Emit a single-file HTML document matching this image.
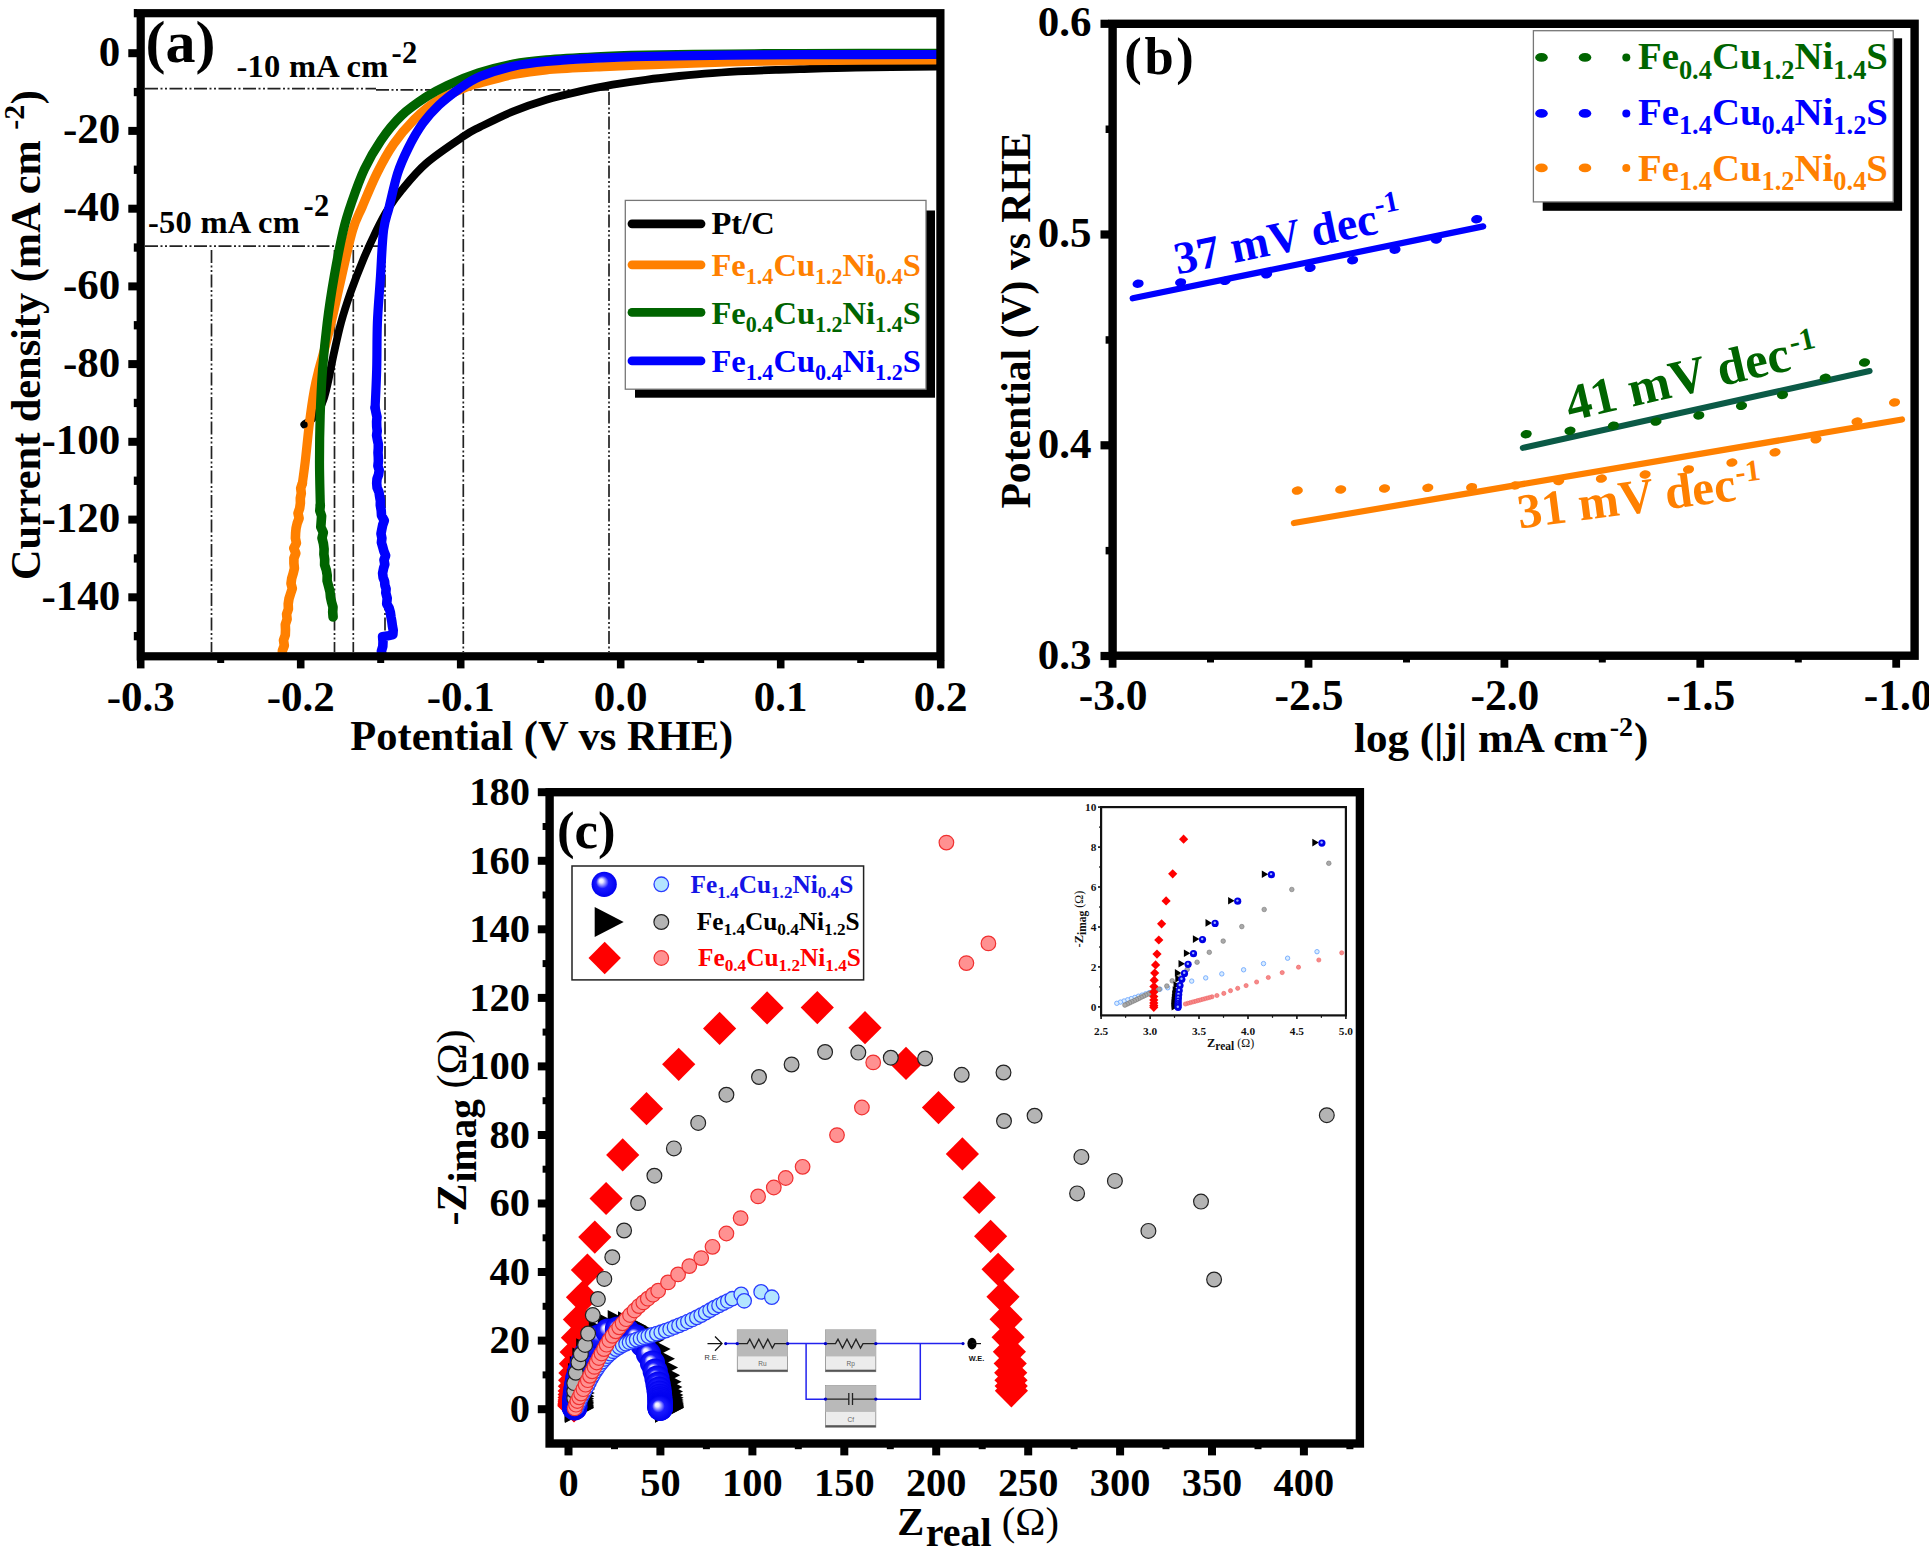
<!DOCTYPE html>
<html lang="en"><head><meta charset="utf-8"><title>HER performance figure</title>
<style>html,body{margin:0;padding:0;background:#fff}svg{display:block}</style></head>
<body>
<svg width="1929" height="1552" viewBox="0 0 1929 1552">
<rect width="1929" height="1552" fill="#fff"/>
<g id="panel-a">
<path d="M145,88.6H376M376,89.8H609" stroke="#222" stroke-width="1.7" stroke-dasharray="13,2.5,2,2.5,2,2.5" fill="none"/>
<path d="M145,246.2H386" stroke="#222" stroke-width="1.7" stroke-dasharray="13,2.5,2,2.5,2,2.5" fill="none"/>
<path d="M211.5,250V652" stroke="#222" stroke-width="1.7" stroke-dasharray="13,2.5,2,2.5,2,2.5" fill="none"/>
<path d="M334.5,250V652" stroke="#222" stroke-width="1.7" stroke-dasharray="13,2.5,2,2.5,2,2.5" fill="none"/>
<path d="M353.3,250V652" stroke="#222" stroke-width="1.7" stroke-dasharray="13,2.5,2,2.5,2,2.5" fill="none"/>
<path d="M385,250V652" stroke="#222" stroke-width="1.7" stroke-dasharray="13,2.5,2,2.5,2,2.5" fill="none"/>
<path d="M463.3,92V652" stroke="#222" stroke-width="1.7" stroke-dasharray="13,2.5,2,2.5,2,2.5" fill="none"/>
<path d="M609,92V652" stroke="#222" stroke-width="1.7" stroke-dasharray="13,2.5,2,2.5,2,2.5" fill="none"/>
<clipPath id="clipA"><rect x="140.7" y="13.2" width="799.7" height="643.1"/></clipPath>
<g clip-path="url(#clipA)" fill="none" stroke-linejoin="round" stroke-linecap="round">
<path d="M304.3,424.5C305.6,423.6 309.6,421.4 312,419C314.4,416.6 317,413.5 319,410C321,406.5 322.4,403 324,398C325.6,393 326.9,387.4 328.5,380C330.1,372.6 331.7,363.2 333.8,353.7C335.9,344.2 338.2,333.1 341,322.8C343.8,312.5 347.2,302.1 350.8,291.8C354.4,281.5 358.4,271.2 362.7,260.9C367,250.6 372.5,238.7 376.7,230C380.9,221.3 383.8,215.7 388,209C392.2,202.3 395.3,197.7 401.7,190C408.1,182.3 416.2,172 426.6,163C437,154 455.1,142.1 464,136.1C472.9,130.1 471.8,131.1 480,127C488.2,122.9 502.1,115.8 513.2,111.3C524.3,106.8 535.4,103 546.4,99.7C557.4,96.4 568.5,93.9 579.5,91.4C590.5,88.9 601.6,86.6 612.7,84.7C623.8,82.8 634.8,81.2 645.9,79.8C657,78.3 668,77.1 679.1,76C690.2,74.9 701.2,73.9 712.3,73.1C723.3,72.3 734.3,71.6 745.4,71.1C756.5,70.5 769.5,70.1 778.6,69.8C787.7,69.5 787.1,69.6 800,69.2C812.9,68.8 833.3,68 856,67.6C878.7,67.2 922.7,66.8 936,66.6" stroke="#000" stroke-width="7.8"/>
<path d="M302.4,483.3C302.9,479.7 304,471.9 305.2,461.9C306.4,451.9 307.9,435.2 309.4,423.2C310.9,411.2 312.7,398.9 314.3,390C315.9,381.1 317.1,376.7 318.8,370C320.5,363.3 322.3,357.5 324.3,350C326.3,342.5 328.6,333.3 330.6,325C332.6,316.7 334.5,308.1 336.3,300C338.1,291.9 338.9,288.1 341.6,276.4C344.3,264.7 349.2,241.6 352.7,230C356.1,218.4 358.3,216 362.3,206.6C366.3,197.2 371.7,183.8 376.9,173.4C382.1,163 387.2,153.4 393.4,144.4C399.6,135.4 406.9,126.8 414.2,119.5C421.5,112.2 428,106.4 437,100.9C446,95.4 460.9,89.4 468.1,86.4C475.3,83.4 472.5,85 480,83C487.5,81 502.1,76.7 513.2,74.5C524.3,72.3 532.6,71 546.4,69.8C560.2,68.5 579.4,67.8 596,67C612.6,66.2 623.8,65.6 646,64.8C668.2,64 703.3,62.7 729,62C754.7,61.3 765.5,61 800,60.6C834.5,60.2 913.3,59.9 936,59.8" stroke="#ff8000" stroke-width="9.2"/>
<path d="M282.2,656L282.4,650.7L284.3,645.5L283.5,640.2L285.3,635L285.5,629.7L285.3,624.5L287.1,619.2L286.6,614.1L288.4,609L288.2,603.9L289,598.7L290.6,593.6L292.3,588.5L291,583.5L291.7,578.4L293.2,573.4L294.4,568.3L293.9,563.3L293.9,558.3L295.8,553.2L293.8,548.2L296.4,543.1L295.4,538.1L295.6,533.1L296.1,528.1L297.2,523.2L299.1,518.2L298,513.2L299.7,508.2L300.4,503.2L300.3,498.2L301.3,493.3L300.7,488.3L302.4,483.3" stroke="#ff8000" stroke-width="9.6"/>
<path d="M320.3,505.2C320.2,498 319.5,476.8 319.5,461.9C319.5,446.9 319.7,431 320.2,415.5C320.7,400 321.4,384.6 322.6,369.1C323.8,353.7 325.3,338.2 327.2,322.8C329.1,307.4 331.5,291.9 334.2,276.4C336.9,260.9 340.5,242.3 343.4,230C346.3,217.7 348.1,212.6 351.6,202.5C355.1,192.4 359.5,179.7 364.4,169.3C369.3,158.9 374.8,149.3 381,140.3C387.2,131.3 394.1,122.7 401.7,115.4C409.3,108.1 419,101.7 426.6,96.7C434.2,91.7 438.8,89.3 447.4,85.3C456,81.3 467.5,76.5 478.5,72.9C489.5,69.4 501.9,66.2 513.2,64C524.5,61.8 532.6,61 546.4,59.8C560.2,58.6 579.4,57.6 596,56.8C612.6,56 623.8,55.7 646,55.2C668.2,54.7 703.3,54.3 729,54C754.7,53.7 765.5,53.6 800,53.5C834.5,53.4 913.3,53.3 936,53.3" stroke="#006400" stroke-width="9.2"/>
<path d="M333.1,617L332.7,612L333,607.1L331.6,602.2L330.5,597.2L330,591.7L328.6,586.2L327.1,580.8L327.2,575.3L326.3,570L324.6,564.8L324.7,559.5L323.9,554.3L324.1,549L323.4,543.5L322,538L323.3,532.6L320.8,527.1L321.2,521.6L321.6,516.1L319.8,510.7L320.3,505.2" stroke="#006400" stroke-width="9.6"/>
<path d="M382.4,656L381.4,651.2L382.8,646.4L383,641.5L382.6,636.7L388.7,635.6L392.9,634.5L393.2,630.1L392.4,625.8L391.8,621.4L391,617L390.4,612.6L389.2,608.2L386.7,603.8L387.2,598.3L385.8,592.9L386.1,589L384.9,585.2L384.6,581.4L383.1,577.5L382.6,573.1L383.5,568.7L384.8,564.4L384,560L385.6,555.6L383.9,551.2L382.7,546.9L381.4,542.5L381.9,538.1L381,533.7L381.8,529.4L382.7,525L384.3,520.6L381.5,515.5L381.2,510.3L380.3,505.2L380.4,500.8L379.6,496.4L379,492.1L377.1,487.7L376.7,483.3L377,478.9L378.6,474.5L379.2,470.2L377.9,465.8L378.4,461.4L378.3,457.1L378,452.7L378.3,448.4L378.3,444L377.4,439.7L376.6,435.3L377.2,431L376.7,426.4L376.6,421.7L377,417.1L376,412.4L375.1,407.8" stroke="#0000ff" stroke-width="9.6"/>
<path d="M375.1,407.8C375.4,401.4 376.3,383.3 376.7,369.1C377.1,354.9 376.8,338.2 377.4,322.8C378,307.4 379.5,291.9 380.5,276.4C381.5,260.9 382.1,241.6 383.6,230C385.1,218.4 387,216 389.3,206.6C391.6,197.2 394.5,183.1 397.6,173.4C400.7,163.7 403.9,156.9 408,148.6C412.1,140.3 417.3,131 422.5,123.7C427.7,116.4 432.8,110.9 439,105C445.2,99.1 453,93.2 459.8,88.4C466.6,83.7 471.1,80.2 480,76.5C488.9,72.8 502.1,68.7 513.2,66.2C524.3,63.7 532.6,62.8 546.4,61.5C560.2,60.2 579.4,59 596,58.2C612.6,57.4 623.8,57 646,56.5C668.2,56 703.3,55.5 729,55.2C754.7,54.9 765.5,54.8 800,54.7C834.5,54.6 913.3,54.5 936,54.5" stroke="#0000ff" stroke-width="9.2"/>
</g>
<circle cx="304.5" cy="424.8" r="3.2" fill="#000"/>
<rect x="140.7" y="13.2" width="799.7" height="643.1" fill="none" stroke="#000" stroke-width="8.2"/>
<rect x="128.3" y="49.2" width="8.7" height="8" fill="#000"/>
<text x="120.3" y="65.7" font-size="43" text-anchor="end" fill="#000" font-weight="bold" font-family="'Liberation Serif','DejaVu Serif',serif">0</text>
<rect x="128.3" y="126.9" width="8.7" height="8" fill="#000"/>
<text x="120.3" y="143.4" font-size="43" text-anchor="end" fill="#000" font-weight="bold" font-family="'Liberation Serif','DejaVu Serif',serif">-20</text>
<rect x="128.3" y="204.7" width="8.7" height="8" fill="#000"/>
<text x="120.3" y="221.2" font-size="43" text-anchor="end" fill="#000" font-weight="bold" font-family="'Liberation Serif','DejaVu Serif',serif">-40</text>
<rect x="128.3" y="282.4" width="8.7" height="8" fill="#000"/>
<text x="120.3" y="298.9" font-size="43" text-anchor="end" fill="#000" font-weight="bold" font-family="'Liberation Serif','DejaVu Serif',serif">-60</text>
<rect x="128.3" y="360.1" width="8.7" height="8" fill="#000"/>
<text x="120.3" y="376.6" font-size="43" text-anchor="end" fill="#000" font-weight="bold" font-family="'Liberation Serif','DejaVu Serif',serif">-80</text>
<rect x="128.3" y="437.8" width="8.7" height="8" fill="#000"/>
<text x="120.3" y="454.3" font-size="43" text-anchor="end" fill="#000" font-weight="bold" font-family="'Liberation Serif','DejaVu Serif',serif">-100</text>
<rect x="128.3" y="515.6" width="8.7" height="8" fill="#000"/>
<text x="120.3" y="532.1" font-size="43" text-anchor="end" fill="#000" font-weight="bold" font-family="'Liberation Serif','DejaVu Serif',serif">-120</text>
<rect x="128.3" y="593.3" width="8.7" height="8" fill="#000"/>
<text x="120.3" y="609.8" font-size="43" text-anchor="end" fill="#000" font-weight="bold" font-family="'Liberation Serif','DejaVu Serif',serif">-140</text>
<rect x="133.8" y="9" width="3.2" height="8.3" fill="#000"/>
<rect x="133.8" y="87.9" width="3.2" height="8.3" fill="#000"/>
<rect x="133.8" y="165.6" width="3.2" height="8.3" fill="#000"/>
<rect x="133.8" y="243.4" width="3.2" height="8.3" fill="#000"/>
<rect x="133.8" y="321.1" width="3.2" height="8.3" fill="#000"/>
<rect x="133.8" y="398.8" width="3.2" height="8.3" fill="#000"/>
<rect x="133.8" y="476.6" width="3.2" height="8.3" fill="#000"/>
<rect x="133.8" y="554.3" width="3.2" height="8.3" fill="#000"/>
<rect x="133.8" y="632" width="3.2" height="8.3" fill="#000"/>
<rect x="136.9" y="660" width="7.6" height="8.4" fill="#000"/>
<text x="140.7" y="711.3" font-size="43" text-anchor="middle" fill="#000" font-weight="bold" font-family="'Liberation Serif','DejaVu Serif',serif">-0.3</text>
<rect x="296.9" y="660" width="7.6" height="8.4" fill="#000"/>
<text x="300.7" y="711.3" font-size="43" text-anchor="middle" fill="#000" font-weight="bold" font-family="'Liberation Serif','DejaVu Serif',serif">-0.2</text>
<rect x="456.9" y="660" width="7.6" height="8.4" fill="#000"/>
<text x="460.7" y="711.3" font-size="43" text-anchor="middle" fill="#000" font-weight="bold" font-family="'Liberation Serif','DejaVu Serif',serif">-0.1</text>
<rect x="616.9" y="660" width="7.6" height="8.4" fill="#000"/>
<text x="620.7" y="711.3" font-size="43" text-anchor="middle" fill="#000" font-weight="bold" font-family="'Liberation Serif','DejaVu Serif',serif">0.0</text>
<rect x="776.9" y="660" width="7.6" height="8.4" fill="#000"/>
<text x="780.7" y="711.3" font-size="43" text-anchor="middle" fill="#000" font-weight="bold" font-family="'Liberation Serif','DejaVu Serif',serif">0.1</text>
<rect x="936.9" y="660" width="7.6" height="8.4" fill="#000"/>
<text x="940.7" y="711.3" font-size="43" text-anchor="middle" fill="#000" font-weight="bold" font-family="'Liberation Serif','DejaVu Serif',serif">0.2</text>
<rect x="217.2" y="660" width="7" height="3" fill="#000"/>
<rect x="377.2" y="660" width="7" height="3" fill="#000"/>
<rect x="537.2" y="660" width="7" height="3" fill="#000"/>
<rect x="697.2" y="660" width="7" height="3" fill="#000"/>
<rect x="857.2" y="660" width="7" height="3" fill="#000"/>
<text x="350.3" y="750" font-size="42.5" text-anchor="start" fill="#000" font-weight="bold" font-family="'Liberation Serif','DejaVu Serif',serif">Potential (V vs RHE)</text>
<text transform="translate(39.8,580) rotate(-90)" font-size="42.3" font-weight="bold" font-family="'Liberation Serif','DejaVu Serif',serif" fill="#000">Current density (mA cm <tspan dy="-15.5" font-size="30">-2</tspan><tspan dy="15.5" dx="0.5">)</tspan></text>
<text x="145.5" y="61.8" font-size="60" text-anchor="start" fill="#000" font-weight="bold" font-family="'Liberation Serif','DejaVu Serif',serif">(a)</text>
<text x="236.5" y="77.3" font-size="32.5" letter-spacing="0.25" font-weight="bold" font-family="'Liberation Serif','DejaVu Serif',serif" fill="#000">-10 mA cm<tspan dy="-14.5" dx="3" font-size="30.5">-2</tspan></text>
<text x="148" y="232.8" font-size="32.5" letter-spacing="0.25" font-weight="bold" font-family="'Liberation Serif','DejaVu Serif',serif" fill="#000">-50 mA cm<tspan dy="-16.5" dx="3.5" font-size="30.5">-2</tspan></text>
<rect x="635" y="210.5" width="300" height="187.2" fill="#000"/>
<rect x="625.3" y="200.4" width="300.7" height="188.8" fill="#fff" stroke="#777" stroke-width="1.3"/>
<path d="M632,223.8H701" stroke="#000" stroke-width="8.8" stroke-linecap="round" fill="none"/>
<text x="711.5" y="234.3" font-size="32.5" text-anchor="start" fill="#000" font-weight="bold" font-family="'Liberation Serif','DejaVu Serif',serif">Pt/C</text>
<path d="M632,264.8H701" stroke="#ff8000" stroke-width="8.8" stroke-linecap="round" fill="none"/>
<text x="711.5" y="275.6" font-size="32.5" text-anchor="start" fill="#ff8000" font-weight="bold" font-family="'Liberation Serif','DejaVu Serif',serif">Fe<tspan dy="8.1" font-size="22.1">1.4</tspan><tspan dy="-8.1" font-size="32.5">Cu</tspan><tspan dy="8.1" font-size="22.1">1.2</tspan><tspan dy="-8.1" font-size="32.5">Ni</tspan><tspan dy="8.1" font-size="22.1">0.4</tspan><tspan dy="-8.1" font-size="32.5">S</tspan></text>
<path d="M632,312.4H701" stroke="#006400" stroke-width="8.8" stroke-linecap="round" fill="none"/>
<text x="711.5" y="323.8" font-size="32.5" text-anchor="start" fill="#006400" font-weight="bold" font-family="'Liberation Serif','DejaVu Serif',serif">Fe<tspan dy="8.1" font-size="22.1">0.4</tspan><tspan dy="-8.1" font-size="32.5">Cu</tspan><tspan dy="8.1" font-size="22.1">1.2</tspan><tspan dy="-8.1" font-size="32.5">Ni</tspan><tspan dy="8.1" font-size="22.1">1.4</tspan><tspan dy="-8.1" font-size="32.5">S</tspan></text>
<path d="M632,360.9H701" stroke="#0000ff" stroke-width="8.8" stroke-linecap="round" fill="none"/>
<text x="711.5" y="372.1" font-size="32.5" text-anchor="start" fill="#0000ff" font-weight="bold" font-family="'Liberation Serif','DejaVu Serif',serif">Fe<tspan dy="8.1" font-size="22.1">1.4</tspan><tspan dy="-8.1" font-size="32.5">Cu</tspan><tspan dy="8.1" font-size="22.1">0.4</tspan><tspan dy="-8.1" font-size="32.5">Ni</tspan><tspan dy="8.1" font-size="22.1">1.2</tspan><tspan dy="-8.1" font-size="32.5">S</tspan></text>
</g>
<g id="panel-b">
<path d="M1132.7,298.3L1483.2,226.4" stroke="#0000ff" stroke-width="6.2" stroke-linecap="round"/>
<ellipse cx="1138.1" cy="283.7" rx="5.6" ry="4.2" fill="#0000ff" transform="rotate(-10 1138.1 283.7)"/>
<ellipse cx="1180.6" cy="282.4" rx="5.6" ry="4.2" fill="#0000ff" transform="rotate(-10 1180.6 282.4)"/>
<ellipse cx="1225.2" cy="280.8" rx="5.6" ry="4.2" fill="#0000ff" transform="rotate(-10 1225.2 280.8)"/>
<ellipse cx="1266.6" cy="274.3" rx="5.6" ry="4.2" fill="#0000ff" transform="rotate(-10 1266.6 274.3)"/>
<ellipse cx="1310.1" cy="267.8" rx="5.6" ry="4.2" fill="#0000ff" transform="rotate(-10 1310.1 267.8)"/>
<ellipse cx="1352.6" cy="260.2" rx="5.6" ry="4.2" fill="#0000ff" transform="rotate(-10 1352.6 260.2)"/>
<ellipse cx="1395" cy="249.7" rx="5.6" ry="4.2" fill="#0000ff" transform="rotate(-10 1395 249.7)"/>
<ellipse cx="1436.4" cy="239.5" rx="5.6" ry="4.2" fill="#0000ff" transform="rotate(-10 1436.4 239.5)"/>
<ellipse cx="1476.7" cy="219.2" rx="5.6" ry="4.2" fill="#0000ff" transform="rotate(-10 1476.7 219.2)"/>
<text transform="translate(1177.5,274.5) rotate(-11.6)" font-size="46" font-weight="bold" font-family="'Liberation Serif','DejaVu Serif',serif" fill="#0000ff">37 mV dec<tspan dy="-18.5" dx="0.5" font-size="29.5">-1</tspan></text>
<path d="M1522.8,447.9L1869.6,371" stroke="#0b5a46" stroke-width="6" stroke-linecap="round"/>
<ellipse cx="1526.2" cy="434.2" rx="5.6" ry="4.2" fill="#006400" transform="rotate(-10 1526.2 434.2)"/>
<ellipse cx="1570" cy="430.8" rx="5.6" ry="4.2" fill="#006400" transform="rotate(-10 1570 430.8)"/>
<ellipse cx="1613.4" cy="425.7" rx="5.6" ry="4.2" fill="#006400" transform="rotate(-10 1613.4 425.7)"/>
<ellipse cx="1656" cy="421.6" rx="5.6" ry="4.2" fill="#006400" transform="rotate(-10 1656 421.6)"/>
<ellipse cx="1698.8" cy="415.4" rx="5.6" ry="4.2" fill="#006400" transform="rotate(-10 1698.8 415.4)"/>
<ellipse cx="1741.5" cy="405.8" rx="5.6" ry="4.2" fill="#006400" transform="rotate(-10 1741.5 405.8)"/>
<ellipse cx="1782.5" cy="394.9" rx="5.6" ry="4.2" fill="#006400" transform="rotate(-10 1782.5 394.9)"/>
<ellipse cx="1825.2" cy="377.8" rx="5.6" ry="4.2" fill="#006400" transform="rotate(-10 1825.2 377.8)"/>
<ellipse cx="1864.5" cy="362.5" rx="5.6" ry="4.2" fill="#006400" transform="rotate(-10 1864.5 362.5)"/>
<text transform="translate(1570,421) rotate(-13)" font-size="51" font-weight="bold" font-family="'Liberation Serif','DejaVu Serif',serif" fill="#006400">41 mV dec<tspan dy="-16.5" dx="2.5" font-size="31">-1</tspan></text>
<path d="M1293.9,523L1902,419.5" stroke="#ff8000" stroke-width="6.2" stroke-linecap="round"/>
<ellipse cx="1297.3" cy="490.6" rx="5.6" ry="4.2" fill="#ff8000" transform="rotate(-10 1297.3 490.6)"/>
<ellipse cx="1340.7" cy="489.5" rx="5.6" ry="4.2" fill="#ff8000" transform="rotate(-10 1340.7 489.5)"/>
<ellipse cx="1384.5" cy="488.5" rx="5.6" ry="4.2" fill="#ff8000" transform="rotate(-10 1384.5 488.5)"/>
<ellipse cx="1427.8" cy="487.8" rx="5.6" ry="4.2" fill="#ff8000" transform="rotate(-10 1427.8 487.8)"/>
<ellipse cx="1471.6" cy="487.2" rx="5.6" ry="4.2" fill="#ff8000" transform="rotate(-10 1471.6 487.2)"/>
<ellipse cx="1515.3" cy="485.4" rx="5.6" ry="4.2" fill="#ff8000" transform="rotate(-10 1515.3 485.4)"/>
<ellipse cx="1558.7" cy="481" rx="5.6" ry="4.2" fill="#ff8000" transform="rotate(-10 1558.7 481)"/>
<ellipse cx="1601.4" cy="478.6" rx="5.6" ry="4.2" fill="#ff8000" transform="rotate(-10 1601.4 478.6)"/>
<ellipse cx="1645.1" cy="474.5" rx="5.6" ry="4.2" fill="#ff8000" transform="rotate(-10 1645.1 474.5)"/>
<ellipse cx="1688.5" cy="469.4" rx="5.6" ry="4.2" fill="#ff8000" transform="rotate(-10 1688.5 469.4)"/>
<ellipse cx="1731.9" cy="462.6" rx="5.6" ry="4.2" fill="#ff8000" transform="rotate(-10 1731.9 462.6)"/>
<ellipse cx="1775" cy="452.3" rx="5.6" ry="4.2" fill="#ff8000" transform="rotate(-10 1775 452.3)"/>
<ellipse cx="1816" cy="439.3" rx="5.6" ry="4.2" fill="#ff8000" transform="rotate(-10 1816 439.3)"/>
<ellipse cx="1857" cy="421.6" rx="5.6" ry="4.2" fill="#ff8000" transform="rotate(-10 1857 421.6)"/>
<ellipse cx="1894.5" cy="402.4" rx="5.6" ry="4.2" fill="#ff8000" transform="rotate(-10 1894.5 402.4)"/>
<text transform="translate(1519.5,528.5) rotate(-7.4)" font-size="49" font-weight="bold" font-family="'Liberation Serif','DejaVu Serif',serif" fill="#ff8000">31 mV dec<tspan dy="-17.5" dx="1.5" font-size="30">-1</tspan></text>
<rect x="1112.6" y="23.8" width="802" height="631.9" fill="none" stroke="#000" stroke-width="8.4"/>
<rect x="1100.5" y="19.7" width="8.5" height="8.2" fill="#000"/>
<text x="1091.5" y="36.3" font-size="43" text-anchor="end" fill="#000" font-weight="bold" font-family="'Liberation Serif','DejaVu Serif',serif">0.6</text>
<rect x="1100.5" y="230.4" width="8.5" height="8.2" fill="#000"/>
<text x="1091.5" y="247" font-size="43" text-anchor="end" fill="#000" font-weight="bold" font-family="'Liberation Serif','DejaVu Serif',serif">0.5</text>
<rect x="1100.5" y="441.2" width="8.5" height="8.2" fill="#000"/>
<text x="1091.5" y="457.8" font-size="43" text-anchor="end" fill="#000" font-weight="bold" font-family="'Liberation Serif','DejaVu Serif',serif">0.4</text>
<rect x="1100.5" y="651.9" width="8.5" height="8.2" fill="#000"/>
<text x="1091.5" y="668.5" font-size="43" text-anchor="end" fill="#000" font-weight="bold" font-family="'Liberation Serif','DejaVu Serif',serif">0.3</text>
<rect x="1105.6" y="125.5" width="3.4" height="7.5" fill="#000"/>
<rect x="1105.6" y="336.2" width="3.4" height="7.5" fill="#000"/>
<rect x="1105.6" y="546.9" width="3.4" height="7.5" fill="#000"/>
<rect x="1108.7" y="659" width="7.8" height="8.7" fill="#000"/>
<text x="1113.1" y="709.5" font-size="43.5" text-anchor="middle" fill="#000" font-weight="bold" font-family="'Liberation Serif','DejaVu Serif',serif">-3.0</text>
<rect x="1304.6" y="659" width="7.8" height="8.7" fill="#000"/>
<text x="1309" y="709.5" font-size="43.5" text-anchor="middle" fill="#000" font-weight="bold" font-family="'Liberation Serif','DejaVu Serif',serif">-2.5</text>
<rect x="1500.5" y="659" width="7.8" height="8.7" fill="#000"/>
<text x="1504.9" y="709.5" font-size="43.5" text-anchor="middle" fill="#000" font-weight="bold" font-family="'Liberation Serif','DejaVu Serif',serif">-2.0</text>
<rect x="1696.4" y="659" width="7.8" height="8.7" fill="#000"/>
<text x="1700.8" y="709.5" font-size="43.5" text-anchor="middle" fill="#000" font-weight="bold" font-family="'Liberation Serif','DejaVu Serif',serif">-1.5</text>
<rect x="1892.3" y="659" width="7.8" height="8.7" fill="#000"/>
<text x="1898.2" y="709.5" font-size="43.5" text-anchor="middle" fill="#000" font-weight="bold" font-family="'Liberation Serif','DejaVu Serif',serif">-1.0</text>
<rect x="1207" y="659" width="7" height="3.5" fill="#000"/>
<rect x="1403" y="659" width="7" height="3.5" fill="#000"/>
<rect x="1598.8" y="659" width="7" height="3.5" fill="#000"/>
<rect x="1794.8" y="659" width="7" height="3.5" fill="#000"/>
<text x="1354" y="752.4" font-size="43" font-weight="bold" font-family="'Liberation Serif','DejaVu Serif',serif" fill="#000">log (|j| mA cm<tspan dy="-16.8" dx="1.5" font-size="28">-2</tspan><tspan dy="16.8" dx="1" font-size="43">)</tspan></text>
<text transform="translate(1029.6,508.6) rotate(-90)" font-size="41.7" font-weight="bold" font-family="'Liberation Serif','DejaVu Serif',serif" fill="#000">Potential (V) vs RHE</text>
<text x="1124.3" y="73.9" font-size="52.5" text-anchor="start" fill="#000" font-weight="bold" font-family="'Liberation Serif','DejaVu Serif',serif" letter-spacing="2.6">(b)</text>
<rect x="1542.7" y="38.3" width="359.4" height="172.5" fill="#000"/>
<rect x="1533.4" y="30.7" width="359.8" height="171.2" fill="#fff" stroke="#777" stroke-width="1.3"/>
<clipPath id="clipBL"><rect x="1534" y="31" width="359" height="170"/></clipPath>
<g clip-path="url(#clipBL)">
<ellipse cx="1541.5" cy="57.4" rx="6.3" ry="4.4" fill="#006400"/>
<ellipse cx="1585" cy="57.4" rx="6.3" ry="4.4" fill="#006400"/>
<circle cx="1626.3" cy="57.4" r="4" fill="#006400"/>
</g>
<text x="1638" y="69.4" font-size="38.8" text-anchor="start" fill="#006400" font-weight="bold" font-family="'Liberation Serif','DejaVu Serif',serif">Fe<tspan dy="9.7" font-size="26.4">0.4</tspan><tspan dy="-9.7" font-size="38.8">Cu</tspan><tspan dy="9.7" font-size="26.4">1.2</tspan><tspan dy="-9.7" font-size="38.8">Ni</tspan><tspan dy="9.7" font-size="26.4">1.4</tspan><tspan dy="-9.7" font-size="38.8">S</tspan></text>
<g clip-path="url(#clipBL)">
<ellipse cx="1541.5" cy="113.4" rx="6.3" ry="4.4" fill="#0000ff"/>
<ellipse cx="1585" cy="113.4" rx="6.3" ry="4.4" fill="#0000ff"/>
<circle cx="1626.3" cy="113.4" r="4" fill="#0000ff"/>
</g>
<text x="1638" y="124.7" font-size="38.8" text-anchor="start" fill="#0000ff" font-weight="bold" font-family="'Liberation Serif','DejaVu Serif',serif">Fe<tspan dy="9.7" font-size="26.4">1.4</tspan><tspan dy="-9.7" font-size="38.8">Cu</tspan><tspan dy="9.7" font-size="26.4">0.4</tspan><tspan dy="-9.7" font-size="38.8">Ni</tspan><tspan dy="9.7" font-size="26.4">1.2</tspan><tspan dy="-9.7" font-size="38.8">S</tspan></text>
<g clip-path="url(#clipBL)">
<ellipse cx="1541.5" cy="167.9" rx="6.3" ry="4.4" fill="#ff8000"/>
<ellipse cx="1585" cy="167.9" rx="6.3" ry="4.4" fill="#ff8000"/>
<circle cx="1626.3" cy="167.9" r="4" fill="#ff8000"/>
</g>
<text x="1638" y="180.6" font-size="38.8" text-anchor="start" fill="#ff8000" font-weight="bold" font-family="'Liberation Serif','DejaVu Serif',serif">Fe<tspan dy="9.7" font-size="26.4">1.4</tspan><tspan dy="-9.7" font-size="38.8">Cu</tspan><tspan dy="9.7" font-size="26.4">1.2</tspan><tspan dy="-9.7" font-size="38.8">Ni</tspan><tspan dy="9.7" font-size="26.4">0.4</tspan><tspan dy="-9.7" font-size="38.8">S</tspan></text>
</g>
<g id="panel-c">
<defs><radialGradient id="sph" cx="0.5" cy="0.5" r="0.5" fx="0.36" fy="0.34"><stop offset="0" stop-color="#ffffff"/><stop offset="0.16" stop-color="#e8e8ff"/><stop offset="0.5" stop-color="#1a1aff"/><stop offset="1" stop-color="#0000f0"/></radialGradient></defs>
<clipPath id="clipC"><rect x="549.6" y="792.2" width="810.3" height="651.3"/></clipPath>
<g clip-path="url(#clipC)">
<path d="M994.8,1390.8l16.6,-16.6l16.6,16.6l-16.6,16.6z" fill="#ff0000"/>
<path d="M994.6,1386.1l16.6,-16.6l16.6,16.6l-16.6,16.6z" fill="#ff0000"/>
<path d="M994.4,1380.2l16.6,-16.6l16.6,16.6l-16.6,16.6z" fill="#ff0000"/>
<path d="M994.1,1372.8l16.6,-16.6l16.6,16.6l-16.6,16.6z" fill="#ff0000"/>
<path d="M993.6,1363.5l16.6,-16.6l16.6,16.6l-16.6,16.6z" fill="#ff0000"/>
<path d="M992.8,1351.8l16.6,-16.6l16.6,16.6l-16.6,16.6z" fill="#ff0000"/>
<path d="M991.5,1337.3l16.6,-16.6l16.6,16.6l-16.6,16.6z" fill="#ff0000"/>
<path d="M989.5,1319.2l16.6,-16.6l16.6,16.6l-16.6,16.6z" fill="#ff0000"/>
<path d="M986.4,1296.8l16.6,-16.6l16.6,16.6l-16.6,16.6z" fill="#ff0000"/>
<path d="M981.5,1269.3l16.6,-16.6l16.6,16.6l-16.6,16.6z" fill="#ff0000"/>
<path d="M974,1236.3l16.6,-16.6l16.6,16.6l-16.6,16.6z" fill="#ff0000"/>
<path d="M962.6,1197.5l16.6,-16.6l16.6,16.6l-16.6,16.6z" fill="#ff0000"/>
<path d="M945.8,1153.9l16.6,-16.6l16.6,16.6l-16.6,16.6z" fill="#ff0000"/>
<path d="M921.9,1107.6l16.6,-16.6l16.6,16.6l-16.6,16.6z" fill="#ff0000"/>
<path d="M889.4,1063.4l16.6,-16.6l16.6,16.6l-16.6,16.6z" fill="#ff0000"/>
<path d="M848.4,1027.7l16.6,-16.6l16.6,16.6l-16.6,16.6z" fill="#ff0000"/>
<path d="M800.7,1007.6l16.6,-16.6l16.6,16.6l-16.6,16.6z" fill="#ff0000"/>
<path d="M750.5,1007.9l16.6,-16.6l16.6,16.6l-16.6,16.6z" fill="#ff0000"/>
<path d="M703,1028.4l16.6,-16.6l16.6,16.6l-16.6,16.6z" fill="#ff0000"/>
<path d="M662.1,1064.3l16.6,-16.6l16.6,16.6l-16.6,16.6z" fill="#ff0000"/>
<path d="M629.9,1108.7l16.6,-16.6l16.6,16.6l-16.6,16.6z" fill="#ff0000"/>
<path d="M606.1,1154.9l16.6,-16.6l16.6,16.6l-16.6,16.6z" fill="#ff0000"/>
<path d="M589.5,1198.5l16.6,-16.6l16.6,16.6l-16.6,16.6z" fill="#ff0000"/>
<path d="M578.2,1237.1l16.6,-16.6l16.6,16.6l-16.6,16.6z" fill="#ff0000"/>
<path d="M570.8,1270l16.6,-16.6l16.6,16.6l-16.6,16.6z" fill="#ff0000"/>
<path d="M565.9,1297.3l16.6,-16.6l16.6,16.6l-16.6,16.6z" fill="#ff0000"/>
<path d="M562.8,1319.6l16.6,-16.6l16.6,16.6l-16.6,16.6z" fill="#ff0000"/>
<path d="M560.8,1337.7l16.6,-16.6l16.6,16.6l-16.6,16.6z" fill="#ff0000"/>
<path d="M559.6,1352.1l16.6,-16.6l16.6,16.6l-16.6,16.6z" fill="#ff0000"/>
<path d="M558.8,1363.7l16.6,-16.6l16.6,16.6l-16.6,16.6z" fill="#ff0000"/>
<path d="M558.3,1373l16.6,-16.6l16.6,16.6l-16.6,16.6z" fill="#ff0000"/>
<path d="M558,1380.3l16.6,-16.6l16.6,16.6l-16.6,16.6z" fill="#ff0000"/>
<path d="M557.8,1386.2l16.6,-16.6l16.6,16.6l-16.6,16.6z" fill="#ff0000"/>
<path d="M557.6,1390.9l16.6,-16.6l16.6,16.6l-16.6,16.6z" fill="#ff0000"/>
<path d="M557.6,1394.6l16.6,-16.6l16.6,16.6l-16.6,16.6z" fill="#ff0000"/>
<path d="M557.5,1397.5l16.6,-16.6l16.6,16.6l-16.6,16.6z" fill="#ff0000"/>
<path d="M557.5,1399.9l16.6,-16.6l16.6,16.6l-16.6,16.6z" fill="#ff0000"/>
<path d="M557.5,1401.7l16.6,-16.6l16.6,16.6l-16.6,16.6z" fill="#ff0000"/>
<path d="M557.4,1403.2l16.6,-16.6l16.6,16.6l-16.6,16.6z" fill="#ff0000"/>
<path d="M557.4,1404.4l16.6,-16.6l16.6,16.6l-16.6,16.6z" fill="#ff0000"/>
<path d="M557.4,1405.3l16.6,-16.6l16.6,16.6l-16.6,16.6z" fill="#ff0000"/>
<path d="M557.4,1406l16.6,-16.6l16.6,16.6l-16.6,16.6z" fill="#ff0000"/>
<path d="M655,1392.8L684,1407.8L655,1422.8z" fill="#000"/>
<path d="M655,1392.5L684,1407.5L655,1422.5z" fill="#000"/>
<path d="M655,1392.1L684,1407.1L655,1422.1z" fill="#000"/>
<path d="M655,1391.7L684,1406.7L655,1421.7z" fill="#000"/>
<path d="M655,1391.1L684,1406.1L655,1421.1z" fill="#000"/>
<path d="M654.9,1390.4L683.9,1405.4L654.9,1420.4z" fill="#000"/>
<path d="M654.9,1389.5L683.9,1404.5L654.9,1419.5z" fill="#000"/>
<path d="M654.9,1388.3L683.9,1403.3L654.9,1418.3z" fill="#000"/>
<path d="M654.8,1386.9L683.8,1401.9L654.8,1416.9z" fill="#000"/>
<path d="M654.7,1385.1L683.7,1400.1L654.7,1415.1z" fill="#000"/>
<path d="M654.6,1382.8L683.6,1397.8L654.6,1412.8z" fill="#000"/>
<path d="M654.4,1380L683.4,1395L654.4,1410z" fill="#000"/>
<path d="M654,1376.5L683,1391.5L654,1406.5z" fill="#000"/>
<path d="M653.4,1372.1L682.4,1387.1L653.4,1402.1z" fill="#000"/>
<path d="M652.6,1366.7L681.6,1381.7L652.6,1396.7z" fill="#000"/>
<path d="M651.2,1360.2L680.2,1375.2L651.2,1390.2z" fill="#000"/>
<path d="M649.1,1352.5L678.1,1367.5L649.1,1382.5z" fill="#000"/>
<path d="M646,1343.7L675,1358.7L646,1373.7z" fill="#000"/>
<path d="M641.6,1334.1L670.6,1349.1L641.6,1364.1z" fill="#000"/>
<path d="M635.4,1324.7L664.4,1339.7L635.4,1354.7z" fill="#000"/>
<path d="M627.5,1316.6L656.5,1331.6L627.5,1346.6z" fill="#000"/>
<path d="M618,1311.3L647,1326.3L618,1341.3z" fill="#000"/>
<path d="M607.7,1310L636.7,1325L607.7,1340z" fill="#000"/>
<path d="M597.7,1313.1L626.7,1328.1L597.7,1343.1z" fill="#000"/>
<path d="M588.8,1319.8L617.8,1334.8L588.8,1349.8z" fill="#000"/>
<path d="M581.6,1328.6L610.6,1343.6L581.6,1358.6z" fill="#000"/>
<path d="M576.2,1338.2L605.2,1353.2L576.2,1368.2z" fill="#000"/>
<path d="M572.4,1347.5L601.4,1362.5L572.4,1377.5z" fill="#000"/>
<path d="M569.8,1355.9L598.8,1370.9L569.8,1385.9z" fill="#000"/>
<path d="M568,1363.1L597,1378.1L568,1393.1z" fill="#000"/>
<path d="M566.9,1369.1L595.9,1384.1L566.9,1399.1z" fill="#000"/>
<path d="M566.2,1374L595.2,1389L566.2,1404z" fill="#000"/>
<path d="M565.7,1378L594.7,1393L565.7,1408z" fill="#000"/>
<path d="M565.4,1381.3L594.4,1396.3L565.4,1411.3z" fill="#000"/>
<path d="M565.2,1383.8L594.2,1398.8L565.2,1413.8z" fill="#000"/>
<path d="M565.1,1385.9L594.1,1400.9L565.1,1415.9z" fill="#000"/>
<path d="M565,1387.5L594,1402.5L565,1417.5z" fill="#000"/>
<path d="M565,1388.8L594,1403.8L565,1418.8z" fill="#000"/>
<path d="M565,1389.9L594,1404.9L565,1419.9z" fill="#000"/>
<path d="M564.9,1390.7L593.9,1405.7L564.9,1420.7z" fill="#000"/>
<path d="M564.9,1391.4L593.9,1406.4L564.9,1421.4z" fill="#000"/>
<path d="M564.9,1391.9L593.9,1406.9L564.9,1421.9z" fill="#000"/>
<path d="M564.9,1392.3L593.9,1407.3L564.9,1422.3z" fill="#000"/>
<path d="M564.9,1392.6L593.9,1407.6L564.9,1422.6z" fill="#000"/>
<path d="M564.9,1392.9L593.9,1407.9L564.9,1422.9z" fill="#000"/>
<circle cx="574.6" cy="1407.9" r="12.6" fill="url(#sph)"/>
<circle cx="574.6" cy="1407.6" r="12.6" fill="url(#sph)"/>
<circle cx="574.6" cy="1407.3" r="12.6" fill="url(#sph)"/>
<circle cx="574.6" cy="1406.9" r="12.6" fill="url(#sph)"/>
<circle cx="574.6" cy="1406.4" r="12.6" fill="url(#sph)"/>
<circle cx="574.6" cy="1405.7" r="12.6" fill="url(#sph)"/>
<circle cx="574.6" cy="1404.9" r="12.6" fill="url(#sph)"/>
<circle cx="574.7" cy="1403.9" r="12.6" fill="url(#sph)"/>
<circle cx="574.7" cy="1402.5" r="12.6" fill="url(#sph)"/>
<circle cx="574.8" cy="1400.9" r="12.6" fill="url(#sph)"/>
<circle cx="574.9" cy="1398.9" r="12.6" fill="url(#sph)"/>
<circle cx="575.1" cy="1396.3" r="12.6" fill="url(#sph)"/>
<circle cx="575.4" cy="1393.1" r="12.6" fill="url(#sph)"/>
<circle cx="575.9" cy="1389.1" r="12.6" fill="url(#sph)"/>
<circle cx="576.7" cy="1384.2" r="12.6" fill="url(#sph)"/>
<circle cx="577.8" cy="1378.2" r="12.6" fill="url(#sph)"/>
<circle cx="579.7" cy="1371.2" r="12.6" fill="url(#sph)"/>
<circle cx="582.4" cy="1363" r="12.6" fill="url(#sph)"/>
<circle cx="586.3" cy="1354" r="12.6" fill="url(#sph)"/>
<circle cx="591.8" cy="1344.9" r="12.6" fill="url(#sph)"/>
<circle cx="599" cy="1336.8" r="12.6" fill="url(#sph)"/>
<circle cx="607.7" cy="1331.1" r="12.6" fill="url(#sph)"/>
<circle cx="617.4" cy="1329" r="12.6" fill="url(#sph)"/>
<circle cx="627.1" cy="1331.1" r="12.6" fill="url(#sph)"/>
<circle cx="635.8" cy="1336.8" r="12.6" fill="url(#sph)"/>
<circle cx="643" cy="1344.9" r="12.6" fill="url(#sph)"/>
<circle cx="648.5" cy="1354" r="12.6" fill="url(#sph)"/>
<circle cx="652.5" cy="1363" r="12.6" fill="url(#sph)"/>
<circle cx="655.2" cy="1371.2" r="12.6" fill="url(#sph)"/>
<circle cx="657" cy="1378.2" r="12.6" fill="url(#sph)"/>
<circle cx="658.1" cy="1384.2" r="12.6" fill="url(#sph)"/>
<circle cx="658.9" cy="1389.1" r="12.6" fill="url(#sph)"/>
<circle cx="659.4" cy="1393.1" r="12.6" fill="url(#sph)"/>
<circle cx="659.7" cy="1396.3" r="12.6" fill="url(#sph)"/>
<circle cx="659.9" cy="1398.9" r="12.6" fill="url(#sph)"/>
<circle cx="660" cy="1400.9" r="12.6" fill="url(#sph)"/>
<circle cx="660.1" cy="1402.5" r="12.6" fill="url(#sph)"/>
<circle cx="660.2" cy="1403.9" r="12.6" fill="url(#sph)"/>
<circle cx="660.2" cy="1404.9" r="12.6" fill="url(#sph)"/>
<circle cx="660.2" cy="1405.7" r="12.6" fill="url(#sph)"/>
<circle cx="660.2" cy="1406.4" r="12.6" fill="url(#sph)"/>
<circle cx="660.2" cy="1406.9" r="12.6" fill="url(#sph)"/>
<circle cx="660.2" cy="1407.3" r="12.6" fill="url(#sph)"/>
<circle cx="660.2" cy="1407.6" r="12.6" fill="url(#sph)"/>
<circle cx="660.2" cy="1407.9" r="12.6" fill="url(#sph)"/>
<circle cx="660.2" cy="1408.1" r="12.6" fill="url(#sph)"/>
<circle cx="660.2" cy="1408.3" r="12.6" fill="url(#sph)"/>
<circle cx="574.2" cy="1398" r="7.4" fill="#b4b4b4" stroke="#222" stroke-width="1.2"/>
<circle cx="574.2" cy="1391" r="7.4" fill="#b4b4b4" stroke="#222" stroke-width="1.2"/>
<circle cx="574.2" cy="1383.1" r="7.4" fill="#b4b4b4" stroke="#222" stroke-width="1.2"/>
<circle cx="575.8" cy="1372.8" r="7.4" fill="#b4b4b4" stroke="#222" stroke-width="1.2"/>
<circle cx="578.4" cy="1362.5" r="7.4" fill="#b4b4b4" stroke="#222" stroke-width="1.2"/>
<circle cx="580.9" cy="1354.2" r="7.4" fill="#b4b4b4" stroke="#222" stroke-width="1.2"/>
<circle cx="585.1" cy="1344.9" r="7.4" fill="#b4b4b4" stroke="#222" stroke-width="1.2"/>
<circle cx="588.1" cy="1333.6" r="7.4" fill="#b4b4b4" stroke="#222" stroke-width="1.2"/>
<circle cx="592.8" cy="1315.1" r="7.4" fill="#b4b4b4" stroke="#222" stroke-width="1.2"/>
<circle cx="597.9" cy="1299.1" r="7.4" fill="#b4b4b4" stroke="#222" stroke-width="1.2"/>
<circle cx="604.3" cy="1278.9" r="7.4" fill="#b4b4b4" stroke="#222" stroke-width="1.2"/>
<circle cx="612.3" cy="1257.2" r="7.4" fill="#b4b4b4" stroke="#222" stroke-width="1.2"/>
<circle cx="624.1" cy="1230.5" r="7.4" fill="#b4b4b4" stroke="#222" stroke-width="1.2"/>
<circle cx="638.1" cy="1203" r="7.4" fill="#b4b4b4" stroke="#222" stroke-width="1.2"/>
<circle cx="654.4" cy="1175.7" r="7.4" fill="#b4b4b4" stroke="#222" stroke-width="1.2"/>
<circle cx="673.9" cy="1148.4" r="7.4" fill="#b4b4b4" stroke="#222" stroke-width="1.2"/>
<circle cx="698.2" cy="1122.9" r="7.4" fill="#b4b4b4" stroke="#222" stroke-width="1.2"/>
<circle cx="726.4" cy="1094.7" r="7.4" fill="#b4b4b4" stroke="#222" stroke-width="1.2"/>
<circle cx="759" cy="1077" r="7.4" fill="#b4b4b4" stroke="#222" stroke-width="1.2"/>
<circle cx="791.6" cy="1064.5" r="7.4" fill="#b4b4b4" stroke="#222" stroke-width="1.2"/>
<circle cx="825.1" cy="1052" r="7.4" fill="#b4b4b4" stroke="#222" stroke-width="1.2"/>
<circle cx="858.3" cy="1052.6" r="7.4" fill="#b4b4b4" stroke="#222" stroke-width="1.2"/>
<circle cx="890.8" cy="1057.7" r="7.4" fill="#b4b4b4" stroke="#222" stroke-width="1.2"/>
<circle cx="925.1" cy="1058.5" r="7.4" fill="#b4b4b4" stroke="#222" stroke-width="1.2"/>
<circle cx="961.7" cy="1074.8" r="7.4" fill="#b4b4b4" stroke="#222" stroke-width="1.2"/>
<circle cx="1003.5" cy="1072.5" r="7.4" fill="#b4b4b4" stroke="#222" stroke-width="1.2"/>
<circle cx="1004" cy="1121" r="7.4" fill="#b4b4b4" stroke="#222" stroke-width="1.2"/>
<circle cx="1034.6" cy="1115.7" r="7.4" fill="#b4b4b4" stroke="#222" stroke-width="1.2"/>
<circle cx="1081.4" cy="1156.9" r="7.4" fill="#b4b4b4" stroke="#222" stroke-width="1.2"/>
<circle cx="1077.1" cy="1193.4" r="7.4" fill="#b4b4b4" stroke="#222" stroke-width="1.2"/>
<circle cx="1114.9" cy="1180.9" r="7.4" fill="#b4b4b4" stroke="#222" stroke-width="1.2"/>
<circle cx="1148.4" cy="1230.9" r="7.4" fill="#b4b4b4" stroke="#222" stroke-width="1.2"/>
<circle cx="1201" cy="1201.6" r="7.4" fill="#b4b4b4" stroke="#222" stroke-width="1.2"/>
<circle cx="1214.1" cy="1279.5" r="7.4" fill="#b4b4b4" stroke="#222" stroke-width="1.2"/>
<circle cx="1326.8" cy="1115.2" r="7.4" fill="#b4b4b4" stroke="#222" stroke-width="1.2"/>
<circle cx="576.7" cy="1407.5" r="7.2" fill="#b3e5ff" stroke="#2a3cff" stroke-width="1.3"/>
<circle cx="578.2" cy="1404.2" r="7.2" fill="#b3e5ff" stroke="#2a3cff" stroke-width="1.3"/>
<circle cx="579.6" cy="1401" r="7.2" fill="#b3e5ff" stroke="#2a3cff" stroke-width="1.3"/>
<circle cx="581.4" cy="1397.3" r="7.2" fill="#b3e5ff" stroke="#2a3cff" stroke-width="1.3"/>
<circle cx="583.2" cy="1393.6" r="7.2" fill="#b3e5ff" stroke="#2a3cff" stroke-width="1.3"/>
<circle cx="585.2" cy="1389.9" r="7.2" fill="#b3e5ff" stroke="#2a3cff" stroke-width="1.3"/>
<circle cx="587.1" cy="1386.2" r="7.2" fill="#b3e5ff" stroke="#2a3cff" stroke-width="1.3"/>
<circle cx="589" cy="1382.5" r="7.2" fill="#b3e5ff" stroke="#2a3cff" stroke-width="1.3"/>
<circle cx="590.9" cy="1378.8" r="7.2" fill="#b3e5ff" stroke="#2a3cff" stroke-width="1.3"/>
<circle cx="593" cy="1375.1" r="7.2" fill="#b3e5ff" stroke="#2a3cff" stroke-width="1.3"/>
<circle cx="595.1" cy="1371.4" r="7.2" fill="#b3e5ff" stroke="#2a3cff" stroke-width="1.3"/>
<circle cx="597.5" cy="1368.1" r="7.2" fill="#b3e5ff" stroke="#2a3cff" stroke-width="1.3"/>
<circle cx="599.8" cy="1364.8" r="7.2" fill="#b3e5ff" stroke="#2a3cff" stroke-width="1.3"/>
<circle cx="602.3" cy="1361.8" r="7.2" fill="#b3e5ff" stroke="#2a3cff" stroke-width="1.3"/>
<circle cx="604.8" cy="1358.9" r="7.2" fill="#b3e5ff" stroke="#2a3cff" stroke-width="1.3"/>
<circle cx="607.5" cy="1356.2" r="7.2" fill="#b3e5ff" stroke="#2a3cff" stroke-width="1.3"/>
<circle cx="610.2" cy="1353.6" r="7.2" fill="#b3e5ff" stroke="#2a3cff" stroke-width="1.3"/>
<circle cx="613.2" cy="1351.3" r="7.2" fill="#b3e5ff" stroke="#2a3cff" stroke-width="1.3"/>
<circle cx="616.1" cy="1349.1" r="7.2" fill="#b3e5ff" stroke="#2a3cff" stroke-width="1.3"/>
<circle cx="619.4" cy="1347.2" r="7.2" fill="#b3e5ff" stroke="#2a3cff" stroke-width="1.3"/>
<circle cx="622.6" cy="1345.3" r="7.2" fill="#b3e5ff" stroke="#2a3cff" stroke-width="1.3"/>
<circle cx="626" cy="1343.8" r="7.2" fill="#b3e5ff" stroke="#2a3cff" stroke-width="1.3"/>
<circle cx="629.5" cy="1342.3" r="7.2" fill="#b3e5ff" stroke="#2a3cff" stroke-width="1.3"/>
<circle cx="633" cy="1340.9" r="7.2" fill="#b3e5ff" stroke="#2a3cff" stroke-width="1.3"/>
<circle cx="636.6" cy="1339.6" r="7.2" fill="#b3e5ff" stroke="#2a3cff" stroke-width="1.3"/>
<circle cx="640.5" cy="1338.4" r="7.2" fill="#b3e5ff" stroke="#2a3cff" stroke-width="1.3"/>
<circle cx="644.3" cy="1337.3" r="7.2" fill="#b3e5ff" stroke="#2a3cff" stroke-width="1.3"/>
<circle cx="648.3" cy="1336.1" r="7.2" fill="#b3e5ff" stroke="#2a3cff" stroke-width="1.3"/>
<circle cx="652.3" cy="1334.9" r="7.2" fill="#b3e5ff" stroke="#2a3cff" stroke-width="1.3"/>
<circle cx="656.8" cy="1333.6" r="7.2" fill="#b3e5ff" stroke="#2a3cff" stroke-width="1.3"/>
<circle cx="661.2" cy="1332.2" r="7.2" fill="#b3e5ff" stroke="#2a3cff" stroke-width="1.3"/>
<circle cx="665.7" cy="1330.6" r="7.2" fill="#b3e5ff" stroke="#2a3cff" stroke-width="1.3"/>
<circle cx="670.1" cy="1329" r="7.2" fill="#b3e5ff" stroke="#2a3cff" stroke-width="1.3"/>
<circle cx="674.5" cy="1327.2" r="7.2" fill="#b3e5ff" stroke="#2a3cff" stroke-width="1.3"/>
<circle cx="679" cy="1325.4" r="7.2" fill="#b3e5ff" stroke="#2a3cff" stroke-width="1.3"/>
<circle cx="683.5" cy="1323.5" r="7.2" fill="#b3e5ff" stroke="#2a3cff" stroke-width="1.3"/>
<circle cx="687.9" cy="1321.5" r="7.2" fill="#b3e5ff" stroke="#2a3cff" stroke-width="1.3"/>
<circle cx="692.3" cy="1319.5" r="7.2" fill="#b3e5ff" stroke="#2a3cff" stroke-width="1.3"/>
<circle cx="696.8" cy="1317.4" r="7.2" fill="#b3e5ff" stroke="#2a3cff" stroke-width="1.3"/>
<circle cx="701.2" cy="1315.1" r="7.2" fill="#b3e5ff" stroke="#2a3cff" stroke-width="1.3"/>
<circle cx="705.7" cy="1312.7" r="7.2" fill="#b3e5ff" stroke="#2a3cff" stroke-width="1.3"/>
<circle cx="710.1" cy="1310.2" r="7.2" fill="#b3e5ff" stroke="#2a3cff" stroke-width="1.3"/>
<circle cx="714.5" cy="1307.6" r="7.2" fill="#b3e5ff" stroke="#2a3cff" stroke-width="1.3"/>
<circle cx="719" cy="1305.4" r="7.2" fill="#b3e5ff" stroke="#2a3cff" stroke-width="1.3"/>
<circle cx="723.4" cy="1303.2" r="7.2" fill="#b3e5ff" stroke="#2a3cff" stroke-width="1.3"/>
<circle cx="727.8" cy="1301" r="7.2" fill="#b3e5ff" stroke="#2a3cff" stroke-width="1.3"/>
<circle cx="732.3" cy="1298.7" r="7.2" fill="#b3e5ff" stroke="#2a3cff" stroke-width="1.3"/>
<circle cx="741.2" cy="1294.3" r="7.2" fill="#b3e5ff" stroke="#2a3cff" stroke-width="1.3"/>
<circle cx="744.2" cy="1300.8" r="7.2" fill="#b3e5ff" stroke="#2a3cff" stroke-width="1.3"/>
<circle cx="761.1" cy="1291.9" r="7.2" fill="#b3e5ff" stroke="#2a3cff" stroke-width="1.3"/>
<circle cx="771.8" cy="1297.2" r="7.2" fill="#b3e5ff" stroke="#2a3cff" stroke-width="1.3"/>
<circle cx="574.7" cy="1408.4" r="7.3" fill="#ff9191" stroke="#f03030" stroke-width="1.2"/>
<circle cx="576" cy="1404.7" r="7.3" fill="#ff9191" stroke="#f03030" stroke-width="1.2"/>
<circle cx="577.3" cy="1401" r="7.3" fill="#ff9191" stroke="#f03030" stroke-width="1.2"/>
<circle cx="579.2" cy="1397.3" r="7.3" fill="#ff9191" stroke="#f03030" stroke-width="1.2"/>
<circle cx="581.1" cy="1393.6" r="7.3" fill="#ff9191" stroke="#f03030" stroke-width="1.2"/>
<circle cx="583.4" cy="1389.2" r="7.3" fill="#ff9191" stroke="#f03030" stroke-width="1.2"/>
<circle cx="585.6" cy="1384.7" r="7.3" fill="#ff9191" stroke="#f03030" stroke-width="1.2"/>
<circle cx="587.8" cy="1380.2" r="7.3" fill="#ff9191" stroke="#f03030" stroke-width="1.2"/>
<circle cx="590" cy="1375.8" r="7.3" fill="#ff9191" stroke="#f03030" stroke-width="1.2"/>
<circle cx="592.2" cy="1371.3" r="7.3" fill="#ff9191" stroke="#f03030" stroke-width="1.2"/>
<circle cx="594.5" cy="1366.9" r="7.3" fill="#ff9191" stroke="#f03030" stroke-width="1.2"/>
<circle cx="596.7" cy="1362.5" r="7.3" fill="#ff9191" stroke="#f03030" stroke-width="1.2"/>
<circle cx="598.9" cy="1358" r="7.3" fill="#ff9191" stroke="#f03030" stroke-width="1.2"/>
<circle cx="601.5" cy="1353.5" r="7.3" fill="#ff9191" stroke="#f03030" stroke-width="1.2"/>
<circle cx="604" cy="1349.1" r="7.3" fill="#ff9191" stroke="#f03030" stroke-width="1.2"/>
<circle cx="606.6" cy="1344.7" r="7.3" fill="#ff9191" stroke="#f03030" stroke-width="1.2"/>
<circle cx="609.3" cy="1340.2" r="7.3" fill="#ff9191" stroke="#f03030" stroke-width="1.2"/>
<circle cx="612.5" cy="1335.8" r="7.3" fill="#ff9191" stroke="#f03030" stroke-width="1.2"/>
<circle cx="615.8" cy="1331.3" r="7.3" fill="#ff9191" stroke="#f03030" stroke-width="1.2"/>
<circle cx="619.2" cy="1327.3" r="7.3" fill="#ff9191" stroke="#f03030" stroke-width="1.2"/>
<circle cx="622.6" cy="1323.3" r="7.3" fill="#ff9191" stroke="#f03030" stroke-width="1.2"/>
<circle cx="626.3" cy="1319.2" r="7.3" fill="#ff9191" stroke="#f03030" stroke-width="1.2"/>
<circle cx="630" cy="1315" r="7.3" fill="#ff9191" stroke="#f03030" stroke-width="1.2"/>
<circle cx="634.5" cy="1310.5" r="7.3" fill="#ff9191" stroke="#f03030" stroke-width="1.2"/>
<circle cx="638.9" cy="1306.1" r="7.3" fill="#ff9191" stroke="#f03030" stroke-width="1.2"/>
<circle cx="643.3" cy="1302.4" r="7.3" fill="#ff9191" stroke="#f03030" stroke-width="1.2"/>
<circle cx="647.8" cy="1298.7" r="7.3" fill="#ff9191" stroke="#f03030" stroke-width="1.2"/>
<circle cx="653" cy="1294.7" r="7.3" fill="#ff9191" stroke="#f03030" stroke-width="1.2"/>
<circle cx="658.2" cy="1290.7" r="7.3" fill="#ff9191" stroke="#f03030" stroke-width="1.2"/>
<circle cx="668" cy="1282.4" r="7.3" fill="#ff9191" stroke="#f03030" stroke-width="1.2"/>
<circle cx="678.1" cy="1274.4" r="7.3" fill="#ff9191" stroke="#f03030" stroke-width="1.2"/>
<circle cx="689.3" cy="1266.1" r="7.3" fill="#ff9191" stroke="#f03030" stroke-width="1.2"/>
<circle cx="701.2" cy="1258.1" r="7.3" fill="#ff9191" stroke="#f03030" stroke-width="1.2"/>
<circle cx="712.5" cy="1246.8" r="7.3" fill="#ff9191" stroke="#f03030" stroke-width="1.2"/>
<circle cx="726.4" cy="1233.5" r="7.3" fill="#ff9191" stroke="#f03030" stroke-width="1.2"/>
<circle cx="740.6" cy="1218.1" r="7.3" fill="#ff9191" stroke="#f03030" stroke-width="1.2"/>
<circle cx="758.1" cy="1196.4" r="7.3" fill="#ff9191" stroke="#f03030" stroke-width="1.2"/>
<circle cx="773.8" cy="1187.5" r="7.3" fill="#ff9191" stroke="#f03030" stroke-width="1.2"/>
<circle cx="785.7" cy="1178" r="7.3" fill="#ff9191" stroke="#f03030" stroke-width="1.2"/>
<circle cx="802.6" cy="1166.8" r="7.3" fill="#ff9191" stroke="#f03030" stroke-width="1.2"/>
<circle cx="837" cy="1135.1" r="7.3" fill="#ff9191" stroke="#f03030" stroke-width="1.2"/>
<circle cx="861.9" cy="1107.5" r="7.3" fill="#ff9191" stroke="#f03030" stroke-width="1.2"/>
<circle cx="873.2" cy="1062.4" r="7.3" fill="#ff9191" stroke="#f03030" stroke-width="1.2"/>
<circle cx="966.4" cy="963.1" r="7.3" fill="#ff9191" stroke="#f03030" stroke-width="1.2"/>
<circle cx="988.4" cy="943.4" r="7.3" fill="#ff9191" stroke="#f03030" stroke-width="1.2"/>
<circle cx="946.4" cy="842.6" r="7.3" fill="#ff9191" stroke="#f03030" stroke-width="1.2"/>
</g>
<g id="circuit">
<path d="M725.5,1343.6H963.5M806.1,1343.6V1399.2H920.3V1343.6" fill="none" stroke="#2222ee" stroke-width="1.5"/>
<path d="M707.5,1343.6H722M715,1336.5L722,1343.6L715,1350.7" fill="none" stroke="#111" stroke-width="1.3"/>
<rect x="737.3" y="1329.9" width="50.3" height="41.8" fill="#ececec" stroke="#8a8a8a" stroke-width="0.8"/>
<rect x="737.3" y="1329.9" width="50.3" height="26.5" fill="#b9b9b9"/>
<rect x="737.3" y="1369.7" width="50.3" height="2" fill="#555"/>
<path d="M737.3,1343.6h10l2.5,-4.5l4.5,9l4.5,-9l4.5,9l4.5,-9l4.5,9l2.5,-4.5h12.3" fill="none" stroke="#222" stroke-width="1.3"/>
<circle cx="737.3" cy="1343.6" r="1.7" fill="#0000c8"/><circle cx="787.6" cy="1343.6" r="1.7" fill="#0000c8"/>
<text x="762.5" y="1366.4" font-size="6.5" text-anchor="middle" fill="#666" font-weight="normal" font-family="'Liberation Sans','DejaVu Sans',sans-serif">Ru</text>
<rect x="825.5" y="1329.9" width="50.3" height="41.8" fill="#ececec" stroke="#8a8a8a" stroke-width="0.8"/>
<rect x="825.5" y="1329.9" width="50.3" height="26.5" fill="#b9b9b9"/>
<rect x="825.5" y="1369.7" width="50.3" height="2" fill="#555"/>
<path d="M825.5,1343.6h10l2.5,-4.5l4.5,9l4.5,-9l4.5,9l4.5,-9l4.5,9l2.5,-4.5h12.3" fill="none" stroke="#222" stroke-width="1.3"/>
<circle cx="825.5" cy="1343.6" r="1.7" fill="#0000c8"/><circle cx="875.8" cy="1343.6" r="1.7" fill="#0000c8"/>
<text x="850.7" y="1366.4" font-size="6.5" text-anchor="middle" fill="#666" font-weight="normal" font-family="'Liberation Sans','DejaVu Sans',sans-serif">Rp</text>
<rect x="825.5" y="1385.4" width="50.3" height="41.8" fill="#ececec" stroke="#8a8a8a" stroke-width="0.8"/>
<rect x="825.5" y="1385.4" width="50.3" height="26.5" fill="#b9b9b9"/>
<rect x="825.5" y="1425.2" width="50.3" height="2" fill="#555"/>
<path d="M825.5,1399.1h23M848.8,1393.1v12M852.5,1393.1v12M852.5,1399.1h23.3" fill="none" stroke="#222" stroke-width="1.3"/>
<circle cx="825.5" cy="1399.1" r="1.7" fill="#0000c8"/><circle cx="875.8" cy="1399.1" r="1.7" fill="#0000c8"/>
<text x="850.7" y="1421.9" font-size="6.5" text-anchor="middle" fill="#666" font-weight="normal" font-family="'Liberation Sans','DejaVu Sans',sans-serif">Cf</text>
<circle cx="725.7" cy="1343.6" r="1.6" fill="#0000c8"/><circle cx="963" cy="1343.6" r="1.6" fill="#0000c8"/>
<ellipse cx="972" cy="1343.6" rx="4.6" ry="5.8" fill="#000"/><path d="M972,1343.6H981" stroke="#111" stroke-width="1.2"/>
<text x="711.5" y="1359.8" font-size="7.3" text-anchor="middle" fill="#333" font-weight="normal" font-family="'Liberation Sans','DejaVu Sans',sans-serif">R.E.</text>
<text x="976.5" y="1361" font-size="7.3" text-anchor="middle" fill="#111" font-weight="bold" font-family="'Liberation Sans','DejaVu Sans',sans-serif">W.E.</text>
</g>
<g id="inset">
<rect x="1101.1" y="807.1" width="244.8" height="208.3" fill="#fff"/>
<clipPath id="clipI"><rect x="1101.1" y="807.1" width="244.8" height="208.3"/></clipPath>
<g clip-path="url(#clipI)">
<circle cx="1317" cy="951.7" r="2.2" fill="#d8ecff" stroke="#6fa8ff" stroke-width="0.9"/>
<circle cx="1287.6" cy="958.2" r="2.2" fill="#d8ecff" stroke="#6fa8ff" stroke-width="0.9"/>
<circle cx="1263.5" cy="963.6" r="2.2" fill="#d8ecff" stroke="#6fa8ff" stroke-width="0.9"/>
<circle cx="1243.6" cy="969.8" r="2.2" fill="#d8ecff" stroke="#6fa8ff" stroke-width="0.9"/>
<circle cx="1221.8" cy="973.9" r="2.2" fill="#d8ecff" stroke="#6fa8ff" stroke-width="0.9"/>
<circle cx="1205.7" cy="977.9" r="2.2" fill="#d8ecff" stroke="#6fa8ff" stroke-width="0.9"/>
<circle cx="1191.7" cy="981.1" r="2.2" fill="#d8ecff" stroke="#6fa8ff" stroke-width="0.9"/>
<circle cx="1178.1" cy="984.7" r="2.2" fill="#d8ecff" stroke="#6fa8ff" stroke-width="0.9"/>
<circle cx="1167.7" cy="987.8" r="2.2" fill="#d8ecff" stroke="#6fa8ff" stroke-width="0.9"/>
<circle cx="1160" cy="989.2" r="2.2" fill="#d8ecff" stroke="#6fa8ff" stroke-width="0.9"/>
<circle cx="1156.4" cy="990.4" r="2.2" fill="#d8ecff" stroke="#6fa8ff" stroke-width="0.9"/>
<circle cx="1152.8" cy="991.6" r="2.2" fill="#d8ecff" stroke="#6fa8ff" stroke-width="0.9"/>
<circle cx="1149.2" cy="992.7" r="2.2" fill="#d8ecff" stroke="#6fa8ff" stroke-width="0.9"/>
<circle cx="1145.6" cy="993.9" r="2.2" fill="#d8ecff" stroke="#6fa8ff" stroke-width="0.9"/>
<circle cx="1142" cy="995.1" r="2.2" fill="#d8ecff" stroke="#6fa8ff" stroke-width="0.9"/>
<circle cx="1138.4" cy="996.2" r="2.2" fill="#d8ecff" stroke="#6fa8ff" stroke-width="0.9"/>
<circle cx="1134.8" cy="997.4" r="2.2" fill="#d8ecff" stroke="#6fa8ff" stroke-width="0.9"/>
<circle cx="1131.2" cy="998.6" r="2.2" fill="#d8ecff" stroke="#6fa8ff" stroke-width="0.9"/>
<circle cx="1127.6" cy="999.8" r="2.2" fill="#d8ecff" stroke="#6fa8ff" stroke-width="0.9"/>
<circle cx="1124" cy="1001" r="2.2" fill="#d8ecff" stroke="#6fa8ff" stroke-width="0.9"/>
<circle cx="1120.4" cy="1002.1" r="2.2" fill="#d8ecff" stroke="#6fa8ff" stroke-width="0.9"/>
<circle cx="1116.8" cy="1003.3" r="2.2" fill="#d8ecff" stroke="#6fa8ff" stroke-width="0.9"/>
<circle cx="1328.8" cy="863.3" r="2.3" fill="#a9a9a9" stroke="#777" stroke-width="0.6"/>
<circle cx="1291.8" cy="889.5" r="2.3" fill="#a9a9a9" stroke="#777" stroke-width="0.6"/>
<circle cx="1264.2" cy="909.5" r="2.3" fill="#a9a9a9" stroke="#777" stroke-width="0.6"/>
<circle cx="1241.8" cy="926.6" r="2.3" fill="#a9a9a9" stroke="#777" stroke-width="0.6"/>
<circle cx="1223.2" cy="941.1" r="2.3" fill="#a9a9a9" stroke="#777" stroke-width="0.6"/>
<circle cx="1209.3" cy="952.3" r="2.3" fill="#a9a9a9" stroke="#777" stroke-width="0.6"/>
<circle cx="1197.1" cy="962.2" r="2.3" fill="#a9a9a9" stroke="#777" stroke-width="0.6"/>
<circle cx="1187.2" cy="969.4" r="2.3" fill="#a9a9a9" stroke="#777" stroke-width="0.6"/>
<circle cx="1178.1" cy="975.7" r="2.3" fill="#a9a9a9" stroke="#777" stroke-width="0.6"/>
<circle cx="1172.2" cy="980.8" r="2.3" fill="#a9a9a9" stroke="#777" stroke-width="0.6"/>
<circle cx="1166.8" cy="986" r="2.3" fill="#a9a9a9" stroke="#777" stroke-width="0.6"/>
<circle cx="1159.2" cy="989.2" r="2.3" fill="#a9a9a9" stroke="#777" stroke-width="0.6"/>
<circle cx="1155" cy="990.7" r="2.3" fill="#a9a9a9" stroke="#777" stroke-width="0.6"/>
<circle cx="1152.7" cy="991.8" r="2.3" fill="#a9a9a9" stroke="#777" stroke-width="0.6"/>
<circle cx="1150.4" cy="992.9" r="2.3" fill="#a9a9a9" stroke="#777" stroke-width="0.6"/>
<circle cx="1148.1" cy="994" r="2.3" fill="#a9a9a9" stroke="#777" stroke-width="0.6"/>
<circle cx="1145.7" cy="995.1" r="2.3" fill="#a9a9a9" stroke="#777" stroke-width="0.6"/>
<circle cx="1143.4" cy="996.2" r="2.3" fill="#a9a9a9" stroke="#777" stroke-width="0.6"/>
<circle cx="1141.1" cy="997.3" r="2.3" fill="#a9a9a9" stroke="#777" stroke-width="0.6"/>
<circle cx="1138.8" cy="998.5" r="2.3" fill="#a9a9a9" stroke="#777" stroke-width="0.6"/>
<circle cx="1136.5" cy="999.6" r="2.3" fill="#a9a9a9" stroke="#777" stroke-width="0.6"/>
<circle cx="1134.2" cy="1000.7" r="2.3" fill="#a9a9a9" stroke="#777" stroke-width="0.6"/>
<circle cx="1131.8" cy="1001.8" r="2.3" fill="#a9a9a9" stroke="#777" stroke-width="0.6"/>
<circle cx="1129.5" cy="1002.9" r="2.3" fill="#a9a9a9" stroke="#777" stroke-width="0.6"/>
<circle cx="1127.2" cy="1004" r="2.3" fill="#a9a9a9" stroke="#777" stroke-width="0.6"/>
<circle cx="1124.9" cy="1005.1" r="2.3" fill="#a9a9a9" stroke="#777" stroke-width="0.6"/>
<circle cx="1341.7" cy="952.8" r="2.1" fill="#f58a8a" stroke="#f06060" stroke-width="0.6"/>
<circle cx="1318.8" cy="960" r="2.1" fill="#f58a8a" stroke="#f06060" stroke-width="0.6"/>
<circle cx="1298.5" cy="967.2" r="2.1" fill="#f58a8a" stroke="#f06060" stroke-width="0.6"/>
<circle cx="1282.2" cy="972.6" r="2.1" fill="#f58a8a" stroke="#f06060" stroke-width="0.6"/>
<circle cx="1268.3" cy="977.5" r="2.1" fill="#f58a8a" stroke="#f06060" stroke-width="0.6"/>
<circle cx="1256.6" cy="982" r="2.1" fill="#f58a8a" stroke="#f06060" stroke-width="0.6"/>
<circle cx="1246.1" cy="985.6" r="2.1" fill="#f58a8a" stroke="#f06060" stroke-width="0.6"/>
<circle cx="1237.7" cy="988.3" r="2.1" fill="#f58a8a" stroke="#f06060" stroke-width="0.6"/>
<circle cx="1230.5" cy="990.7" r="2.1" fill="#f58a8a" stroke="#f06060" stroke-width="0.6"/>
<circle cx="1223.8" cy="993.4" r="2.1" fill="#f58a8a" stroke="#f06060" stroke-width="0.6"/>
<circle cx="1216.9" cy="995.5" r="2.1" fill="#f58a8a" stroke="#f06060" stroke-width="0.6"/>
<circle cx="1212" cy="996.8" r="2.1" fill="#f58a8a" stroke="#f06060" stroke-width="0.6"/>
<circle cx="1209.6" cy="997.5" r="2.1" fill="#f58a8a" stroke="#f06060" stroke-width="0.6"/>
<circle cx="1207.2" cy="998.1" r="2.1" fill="#f58a8a" stroke="#f06060" stroke-width="0.6"/>
<circle cx="1204.7" cy="998.8" r="2.1" fill="#f58a8a" stroke="#f06060" stroke-width="0.6"/>
<circle cx="1202.3" cy="999.4" r="2.1" fill="#f58a8a" stroke="#f06060" stroke-width="0.6"/>
<circle cx="1199.9" cy="1000.1" r="2.1" fill="#f58a8a" stroke="#f06060" stroke-width="0.6"/>
<circle cx="1197.5" cy="1000.7" r="2.1" fill="#f58a8a" stroke="#f06060" stroke-width="0.6"/>
<circle cx="1195.1" cy="1001.4" r="2.1" fill="#f58a8a" stroke="#f06060" stroke-width="0.6"/>
<circle cx="1192.7" cy="1002" r="2.1" fill="#f58a8a" stroke="#f06060" stroke-width="0.6"/>
<circle cx="1190.2" cy="1002.7" r="2.1" fill="#f58a8a" stroke="#f06060" stroke-width="0.6"/>
<circle cx="1187.8" cy="1003.3" r="2.1" fill="#f58a8a" stroke="#f06060" stroke-width="0.6"/>
<circle cx="1185.4" cy="1004" r="2.1" fill="#f58a8a" stroke="#f06060" stroke-width="0.6"/>
<path d="M1179,839.2l4.6,-4.6l4.6,4.6l-4.6,4.6z" fill="#ff0000"/>
<path d="M1168.1,873.8l4.6,-4.6l4.6,4.6l-4.6,4.6z" fill="#ff0000"/>
<path d="M1161.5,900.9l4.6,-4.6l4.6,4.6l-4.6,4.6z" fill="#ff0000"/>
<path d="M1157,923.8l4.6,-4.6l4.6,4.6l-4.6,4.6z" fill="#ff0000"/>
<path d="M1154.2,940l4.6,-4.6l4.6,4.6l-4.6,4.6z" fill="#ff0000"/>
<path d="M1152.4,954.1l4.6,-4.6l4.6,4.6l-4.6,4.6z" fill="#ff0000"/>
<path d="M1151,964.9l4.6,-4.6l4.6,4.6l-4.6,4.6z" fill="#ff0000"/>
<path d="M1150.1,973l4.6,-4.6l4.6,4.6l-4.6,4.6z" fill="#ff0000"/>
<path d="M1149.6,980.2l4.6,-4.6l4.6,4.6l-4.6,4.6z" fill="#ff0000"/>
<path d="M1149.3,986.5l4.6,-4.6l4.6,4.6l-4.6,4.6z" fill="#ff0000"/>
<path d="M1149.2,992l4.6,-4.6l4.6,4.6l-4.6,4.6z" fill="#ff0000"/>
<path d="M1149.2,996.5l4.6,-4.6l4.6,4.6l-4.6,4.6z" fill="#ff0000"/>
<path d="M1149.2,1000l4.6,-4.6l4.6,4.6l-4.6,4.6z" fill="#ff0000"/>
<path d="M1149.2,1003l4.6,-4.6l4.6,4.6l-4.6,4.6z" fill="#ff0000"/>
<path d="M1149.2,1005.5l4.6,-4.6l4.6,4.6l-4.6,4.6z" fill="#ff0000"/>
<path d="M1149.2,1007.3l4.6,-4.6l4.6,4.6l-4.6,4.6z" fill="#ff0000"/>
<path d="M1312.3,838.8L1318.8,842.6L1312.3,846.4z" fill="#000"/>
<path d="M1261.8,870.4L1268.3,874.2L1261.8,878z" fill="#000"/>
<path d="M1228.1,896.9L1234.6,900.7L1228.1,904.5z" fill="#000"/>
<path d="M1205.5,919.1L1212,922.9L1205.5,926.7z" fill="#000"/>
<path d="M1192.9,935.3L1199.4,939.1L1192.9,942.9z" fill="#000"/>
<path d="M1183.9,949.4L1190.4,953.2L1183.9,957z" fill="#000"/>
<path d="M1178.5,960L1185,963.8L1178.5,967.6z" fill="#000"/>
<path d="M1174.9,969.1L1181.4,972.9L1174.9,976.7z" fill="#000"/>
<path d="M1175.3,975L1181.8,978.8L1175.3,982.6z" fill="#000"/>
<path d="M1173.5,981.3L1180,985.1L1173.5,988.9z" fill="#000"/>
<path d="M1172.7,986.2L1179.2,990L1172.7,993.8z" fill="#000"/>
<path d="M1172.2,990.2L1178.7,994L1172.2,997.8z" fill="#000"/>
<path d="M1171.9,993.7L1178.4,997.5L1171.9,1001.3z" fill="#000"/>
<path d="M1171.7,996.7L1178.2,1000.5L1171.7,1004.3z" fill="#000"/>
<path d="M1171.6,999.2L1178.1,1003L1171.6,1006.8z" fill="#000"/>
<path d="M1171.6,1001.2L1178.1,1005L1171.6,1008.8z" fill="#000"/>
<path d="M1171.6,1003L1178.1,1006.8L1171.6,1010.6z" fill="#000"/>
<circle cx="1321.9" cy="843.1" r="3.6" fill="#0000e6"/><circle cx="1321.6" cy="842.5" r="1.2" fill="#9db4ff"/>
<circle cx="1271.4" cy="874.7" r="3.6" fill="#0000e6"/><circle cx="1271.1" cy="874.1" r="1.2" fill="#9db4ff"/>
<circle cx="1237.7" cy="901.2" r="3.6" fill="#0000e6"/><circle cx="1237.4" cy="900.6" r="1.2" fill="#9db4ff"/>
<circle cx="1215.1" cy="923.4" r="3.6" fill="#0000e6"/><circle cx="1214.8" cy="922.8" r="1.2" fill="#9db4ff"/>
<circle cx="1202.5" cy="939.6" r="3.6" fill="#0000e6"/><circle cx="1202.2" cy="939" r="1.2" fill="#9db4ff"/>
<circle cx="1193.5" cy="953.7" r="3.6" fill="#0000e6"/><circle cx="1193.2" cy="953.1" r="1.2" fill="#9db4ff"/>
<circle cx="1188.1" cy="964.3" r="3.6" fill="#0000e6"/><circle cx="1187.8" cy="963.7" r="1.2" fill="#9db4ff"/>
<circle cx="1184.5" cy="973.4" r="3.6" fill="#0000e6"/><circle cx="1184.2" cy="972.8" r="1.2" fill="#9db4ff"/>
<circle cx="1181.8" cy="979.3" r="3.6" fill="#0000e6"/><circle cx="1181.5" cy="978.7" r="1.2" fill="#9db4ff"/>
<circle cx="1180" cy="985.6" r="3.6" fill="#0000e6"/><circle cx="1179.7" cy="985" r="1.2" fill="#9db4ff"/>
<circle cx="1179.2" cy="990.5" r="3.6" fill="#0000e6"/><circle cx="1178.9" cy="989.9" r="1.2" fill="#9db4ff"/>
<circle cx="1178.7" cy="994.5" r="3.6" fill="#0000e6"/><circle cx="1178.4" cy="993.9" r="1.2" fill="#9db4ff"/>
<circle cx="1178.4" cy="998" r="3.6" fill="#0000e6"/><circle cx="1178.1" cy="997.4" r="1.2" fill="#9db4ff"/>
<circle cx="1178.2" cy="1001" r="3.6" fill="#0000e6"/><circle cx="1177.9" cy="1000.4" r="1.2" fill="#9db4ff"/>
<circle cx="1178.1" cy="1003.5" r="3.6" fill="#0000e6"/><circle cx="1177.8" cy="1002.9" r="1.2" fill="#9db4ff"/>
<circle cx="1178.1" cy="1005.5" r="3.6" fill="#0000e6"/><circle cx="1177.8" cy="1004.9" r="1.2" fill="#9db4ff"/>
<circle cx="1178.1" cy="1007.3" r="3.6" fill="#0000e6"/><circle cx="1177.8" cy="1006.7" r="1.2" fill="#9db4ff"/>
</g>
<rect x="1101.1" y="807.1" width="244.8" height="208.3" fill="none" stroke="#111" stroke-width="2.2"/>
<rect x="1098" y="1006.1" width="2.5" height="1.6" fill="#111"/>
<text x="1096.3" y="1010.8" font-size="11.3" text-anchor="end" fill="#111" font-weight="bold" font-family="'Liberation Serif','DejaVu Serif',serif">0</text>
<rect x="1098" y="966.1" width="2.5" height="1.6" fill="#111"/>
<text x="1096.3" y="970.8" font-size="11.3" text-anchor="end" fill="#111" font-weight="bold" font-family="'Liberation Serif','DejaVu Serif',serif">2</text>
<rect x="1098" y="926.2" width="2.5" height="1.6" fill="#111"/>
<text x="1096.3" y="930.9" font-size="11.3" text-anchor="end" fill="#111" font-weight="bold" font-family="'Liberation Serif','DejaVu Serif',serif">4</text>
<rect x="1098" y="886.2" width="2.5" height="1.6" fill="#111"/>
<text x="1096.3" y="890.9" font-size="11.3" text-anchor="end" fill="#111" font-weight="bold" font-family="'Liberation Serif','DejaVu Serif',serif">6</text>
<rect x="1098" y="846.3" width="2.5" height="1.6" fill="#111"/>
<text x="1096.3" y="851" font-size="11.3" text-anchor="end" fill="#111" font-weight="bold" font-family="'Liberation Serif','DejaVu Serif',serif">8</text>
<rect x="1098" y="806.3" width="2.5" height="1.6" fill="#111"/>
<text x="1096.3" y="811" font-size="11.3" text-anchor="end" fill="#111" font-weight="bold" font-family="'Liberation Serif','DejaVu Serif',serif">10</text>
<rect x="1099" y="986.3" width="1.5" height="1.2" fill="#111"/>
<rect x="1099" y="946.4" width="1.5" height="1.2" fill="#111"/>
<rect x="1099" y="906.4" width="1.5" height="1.2" fill="#111"/>
<rect x="1099" y="866.4" width="1.5" height="1.2" fill="#111"/>
<rect x="1099" y="826.5" width="1.5" height="1.2" fill="#111"/>
<rect x="1100.3" y="1016" width="1.6" height="3" fill="#111"/>
<text x="1101.1" y="1034.5" font-size="11.3" text-anchor="middle" fill="#111" font-weight="bold" font-family="'Liberation Serif','DejaVu Serif',serif">2.5</text>
<rect x="1149.3" y="1016" width="1.6" height="3" fill="#111"/>
<text x="1150.1" y="1034.5" font-size="11.3" text-anchor="middle" fill="#111" font-weight="bold" font-family="'Liberation Serif','DejaVu Serif',serif">3.0</text>
<rect x="1198.2" y="1016" width="1.6" height="3" fill="#111"/>
<text x="1199" y="1034.5" font-size="11.3" text-anchor="middle" fill="#111" font-weight="bold" font-family="'Liberation Serif','DejaVu Serif',serif">3.5</text>
<rect x="1247.2" y="1016" width="1.6" height="3" fill="#111"/>
<text x="1248" y="1034.5" font-size="11.3" text-anchor="middle" fill="#111" font-weight="bold" font-family="'Liberation Serif','DejaVu Serif',serif">4.0</text>
<rect x="1296.1" y="1016" width="1.6" height="3" fill="#111"/>
<text x="1296.9" y="1034.5" font-size="11.3" text-anchor="middle" fill="#111" font-weight="bold" font-family="'Liberation Serif','DejaVu Serif',serif">4.5</text>
<rect x="1345.1" y="1016" width="1.6" height="3" fill="#111"/>
<text x="1345.9" y="1034.5" font-size="11.3" text-anchor="middle" fill="#111" font-weight="bold" font-family="'Liberation Serif','DejaVu Serif',serif">5.0</text>
<rect x="1125" y="1016" width="1.2" height="1.8" fill="#111"/>
<rect x="1173.9" y="1016" width="1.2" height="1.8" fill="#111"/>
<rect x="1222.9" y="1016" width="1.2" height="1.8" fill="#111"/>
<rect x="1271.9" y="1016" width="1.2" height="1.8" fill="#111"/>
<rect x="1320.8" y="1016" width="1.2" height="1.8" fill="#111"/>
<text x="1207" y="1047" font-size="12.5" font-weight="bold" font-family="'Liberation Serif','DejaVu Serif',serif" fill="#111">Z<tspan dy="3" font-size="11.5">real</tspan><tspan dy="-3" font-size="12" font-weight="normal"> (Ω)</tspan></text>
<text transform="translate(1082.5,947.5) rotate(-90)" font-size="12.5" font-weight="bold" font-family="'Liberation Serif','DejaVu Serif',serif" fill="#111">-Z<tspan dy="3" font-size="11.5">imag</tspan><tspan dy="-3" font-size="12" font-weight="normal"> (Ω)</tspan></text>
</g>
<rect x="549.6" y="792.2" width="810.3" height="651.3" fill="none" stroke="#000" stroke-width="8.4"/>
<rect x="537.8" y="788.2" width="8.2" height="8" fill="#000"/>
<text x="530" y="805" font-size="40.6" text-anchor="end" fill="#000" font-weight="bold" font-family="'Liberation Serif','DejaVu Serif',serif">180</text>
<rect x="537.8" y="856.8" width="8.2" height="8" fill="#000"/>
<text x="530" y="873.5" font-size="40.6" text-anchor="end" fill="#000" font-weight="bold" font-family="'Liberation Serif','DejaVu Serif',serif">160</text>
<rect x="537.8" y="925.3" width="8.2" height="8" fill="#000"/>
<text x="530" y="942.1" font-size="40.6" text-anchor="end" fill="#000" font-weight="bold" font-family="'Liberation Serif','DejaVu Serif',serif">140</text>
<rect x="537.8" y="993.9" width="8.2" height="8" fill="#000"/>
<text x="530" y="1010.6" font-size="40.6" text-anchor="end" fill="#000" font-weight="bold" font-family="'Liberation Serif','DejaVu Serif',serif">120</text>
<rect x="537.8" y="1062.4" width="8.2" height="8" fill="#000"/>
<text x="530" y="1079.2" font-size="40.6" text-anchor="end" fill="#000" font-weight="bold" font-family="'Liberation Serif','DejaVu Serif',serif">100</text>
<rect x="537.8" y="1131" width="8.2" height="8" fill="#000"/>
<text x="530" y="1147.8" font-size="40.6" text-anchor="end" fill="#000" font-weight="bold" font-family="'Liberation Serif','DejaVu Serif',serif">80</text>
<rect x="537.8" y="1199.5" width="8.2" height="8" fill="#000"/>
<text x="530" y="1216.3" font-size="40.6" text-anchor="end" fill="#000" font-weight="bold" font-family="'Liberation Serif','DejaVu Serif',serif">60</text>
<rect x="537.8" y="1268" width="8.2" height="8" fill="#000"/>
<text x="530" y="1284.8" font-size="40.6" text-anchor="end" fill="#000" font-weight="bold" font-family="'Liberation Serif','DejaVu Serif',serif">40</text>
<rect x="537.8" y="1336.6" width="8.2" height="8" fill="#000"/>
<text x="530" y="1353.4" font-size="40.6" text-anchor="end" fill="#000" font-weight="bold" font-family="'Liberation Serif','DejaVu Serif',serif">20</text>
<rect x="537.8" y="1405.2" width="8.2" height="8" fill="#000"/>
<text x="530" y="1422" font-size="40.6" text-anchor="end" fill="#000" font-weight="bold" font-family="'Liberation Serif','DejaVu Serif',serif">0</text>
<rect x="542.6" y="823" width="3.4" height="7" fill="#000"/>
<rect x="542.6" y="891.5" width="3.4" height="7" fill="#000"/>
<rect x="542.6" y="960.1" width="3.4" height="7" fill="#000"/>
<rect x="542.6" y="1028.6" width="3.4" height="7" fill="#000"/>
<rect x="542.6" y="1097.2" width="3.4" height="7" fill="#000"/>
<rect x="542.6" y="1165.7" width="3.4" height="7" fill="#000"/>
<rect x="542.6" y="1234.3" width="3.4" height="7" fill="#000"/>
<rect x="542.6" y="1302.8" width="3.4" height="7" fill="#000"/>
<rect x="542.6" y="1371.4" width="3.4" height="7" fill="#000"/>
<rect x="564.5" y="1447" width="8" height="8.4" fill="#000"/>
<text x="568.5" y="1495.8" font-size="40.4" text-anchor="middle" fill="#000" font-weight="bold" font-family="'Liberation Serif','DejaVu Serif',serif">0</text>
<rect x="656.4" y="1447" width="8" height="8.4" fill="#000"/>
<text x="660.4" y="1495.8" font-size="40.4" text-anchor="middle" fill="#000" font-weight="bold" font-family="'Liberation Serif','DejaVu Serif',serif">50</text>
<rect x="748.4" y="1447" width="8" height="8.4" fill="#000"/>
<text x="752.4" y="1495.8" font-size="40.4" text-anchor="middle" fill="#000" font-weight="bold" font-family="'Liberation Serif','DejaVu Serif',serif">100</text>
<rect x="840.3" y="1447" width="8" height="8.4" fill="#000"/>
<text x="844.3" y="1495.8" font-size="40.4" text-anchor="middle" fill="#000" font-weight="bold" font-family="'Liberation Serif','DejaVu Serif',serif">150</text>
<rect x="932.2" y="1447" width="8" height="8.4" fill="#000"/>
<text x="936.2" y="1495.8" font-size="40.4" text-anchor="middle" fill="#000" font-weight="bold" font-family="'Liberation Serif','DejaVu Serif',serif">200</text>
<rect x="1024.2" y="1447" width="8" height="8.4" fill="#000"/>
<text x="1028.2" y="1495.8" font-size="40.4" text-anchor="middle" fill="#000" font-weight="bold" font-family="'Liberation Serif','DejaVu Serif',serif">250</text>
<rect x="1116.1" y="1447" width="8" height="8.4" fill="#000"/>
<text x="1120.1" y="1495.8" font-size="40.4" text-anchor="middle" fill="#000" font-weight="bold" font-family="'Liberation Serif','DejaVu Serif',serif">300</text>
<rect x="1208" y="1447" width="8" height="8.4" fill="#000"/>
<text x="1212" y="1495.8" font-size="40.4" text-anchor="middle" fill="#000" font-weight="bold" font-family="'Liberation Serif','DejaVu Serif',serif">350</text>
<rect x="1299.9" y="1447" width="8" height="8.4" fill="#000"/>
<text x="1303.9" y="1495.8" font-size="40.4" text-anchor="middle" fill="#000" font-weight="bold" font-family="'Liberation Serif','DejaVu Serif',serif">400</text>
<rect x="611" y="1447" width="7" height="2.2" fill="#000"/>
<rect x="702.9" y="1447" width="7" height="2.2" fill="#000"/>
<rect x="794.8" y="1447" width="7" height="2.2" fill="#000"/>
<rect x="886.8" y="1447" width="7" height="2.2" fill="#000"/>
<rect x="978.7" y="1447" width="7" height="2.2" fill="#000"/>
<rect x="1070.6" y="1447" width="7" height="2.2" fill="#000"/>
<rect x="1162.5" y="1447" width="7" height="2.2" fill="#000"/>
<rect x="1254.5" y="1447" width="7" height="2.2" fill="#000"/>
<rect x="1346.4" y="1447" width="7" height="2.2" fill="#000"/>
<text x="897.3" y="1535.2" font-size="40.5" font-weight="bold" font-family="'Liberation Serif','DejaVu Serif',serif" fill="#000">Z<tspan dy="10.6" dx="1.5" font-size="40">real</tspan><tspan dy="-10.6" font-size="40.5" font-weight="normal"> (Ω)</tspan></text>
<text transform="translate(466,1225.5) rotate(-90)" font-size="42" font-weight="bold" font-family="'Liberation Serif','DejaVu Serif',serif" fill="#000">-Z<tspan dy="10" dx="1" font-size="39.5">imag</tspan><tspan dy="-10" font-size="42" font-weight="normal"> (Ω)</tspan></text>
<text x="557" y="847.5" font-size="52.8" text-anchor="start" fill="#000" font-weight="bold" font-family="'Liberation Serif','DejaVu Serif',serif">(c)</text>
<rect x="572" y="866" width="291.6" height="113.9" fill="#fff" stroke="#222" stroke-width="1.5"/>
<circle cx="604.2" cy="884.3" r="12.6" fill="url(#sph)"/>
<circle cx="661.3" cy="884.3" r="7.3" fill="#b3e5ff" stroke="#2a3cff" stroke-width="1.3"/>
<text x="690.5" y="893.1" font-size="25.3" text-anchor="start" fill="#1414e6" font-weight="bold" font-family="'Liberation Serif','DejaVu Serif',serif">Fe<tspan dy="5.1" font-size="17.2">1.4</tspan><tspan dy="-5.1" font-size="25.3">Cu</tspan><tspan dy="5.1" font-size="17.2">1.2</tspan><tspan dy="-5.1" font-size="25.3">Ni</tspan><tspan dy="5.1" font-size="17.2">0.4</tspan><tspan dy="-5.1" font-size="25.3">S</tspan></text>
<path d="M594.7,907L623.7,922L594.7,937z" fill="#000"/>
<circle cx="661.3" cy="922" r="7.4" fill="#b4b4b4" stroke="#222" stroke-width="1.2"/>
<text x="696.8" y="930" font-size="25.3" text-anchor="start" fill="#000" font-weight="bold" font-family="'Liberation Serif','DejaVu Serif',serif">Fe<tspan dy="5.1" font-size="17.2">1.4</tspan><tspan dy="-5.1" font-size="25.3">Cu</tspan><tspan dy="5.1" font-size="17.2">0.4</tspan><tspan dy="-5.1" font-size="25.3">Ni</tspan><tspan dy="5.1" font-size="17.2">1.2</tspan><tspan dy="-5.1" font-size="25.3">S</tspan></text>
<path d="M588.5,958l16.2,-16.2l16.2,16.2l-16.2,16.2z" fill="#ff0000"/>
<circle cx="661.3" cy="958" r="7.3" fill="#ff9191" stroke="#f03030" stroke-width="1.2"/>
<text x="698" y="966" font-size="25.3" text-anchor="start" fill="#ff0000" font-weight="bold" font-family="'Liberation Serif','DejaVu Serif',serif">Fe<tspan dy="5.1" font-size="17.2">0.4</tspan><tspan dy="-5.1" font-size="25.3">Cu</tspan><tspan dy="5.1" font-size="17.2">1.2</tspan><tspan dy="-5.1" font-size="25.3">Ni</tspan><tspan dy="5.1" font-size="17.2">1.4</tspan><tspan dy="-5.1" font-size="25.3">S</tspan></text>
</g>
</svg>
</body></html>
